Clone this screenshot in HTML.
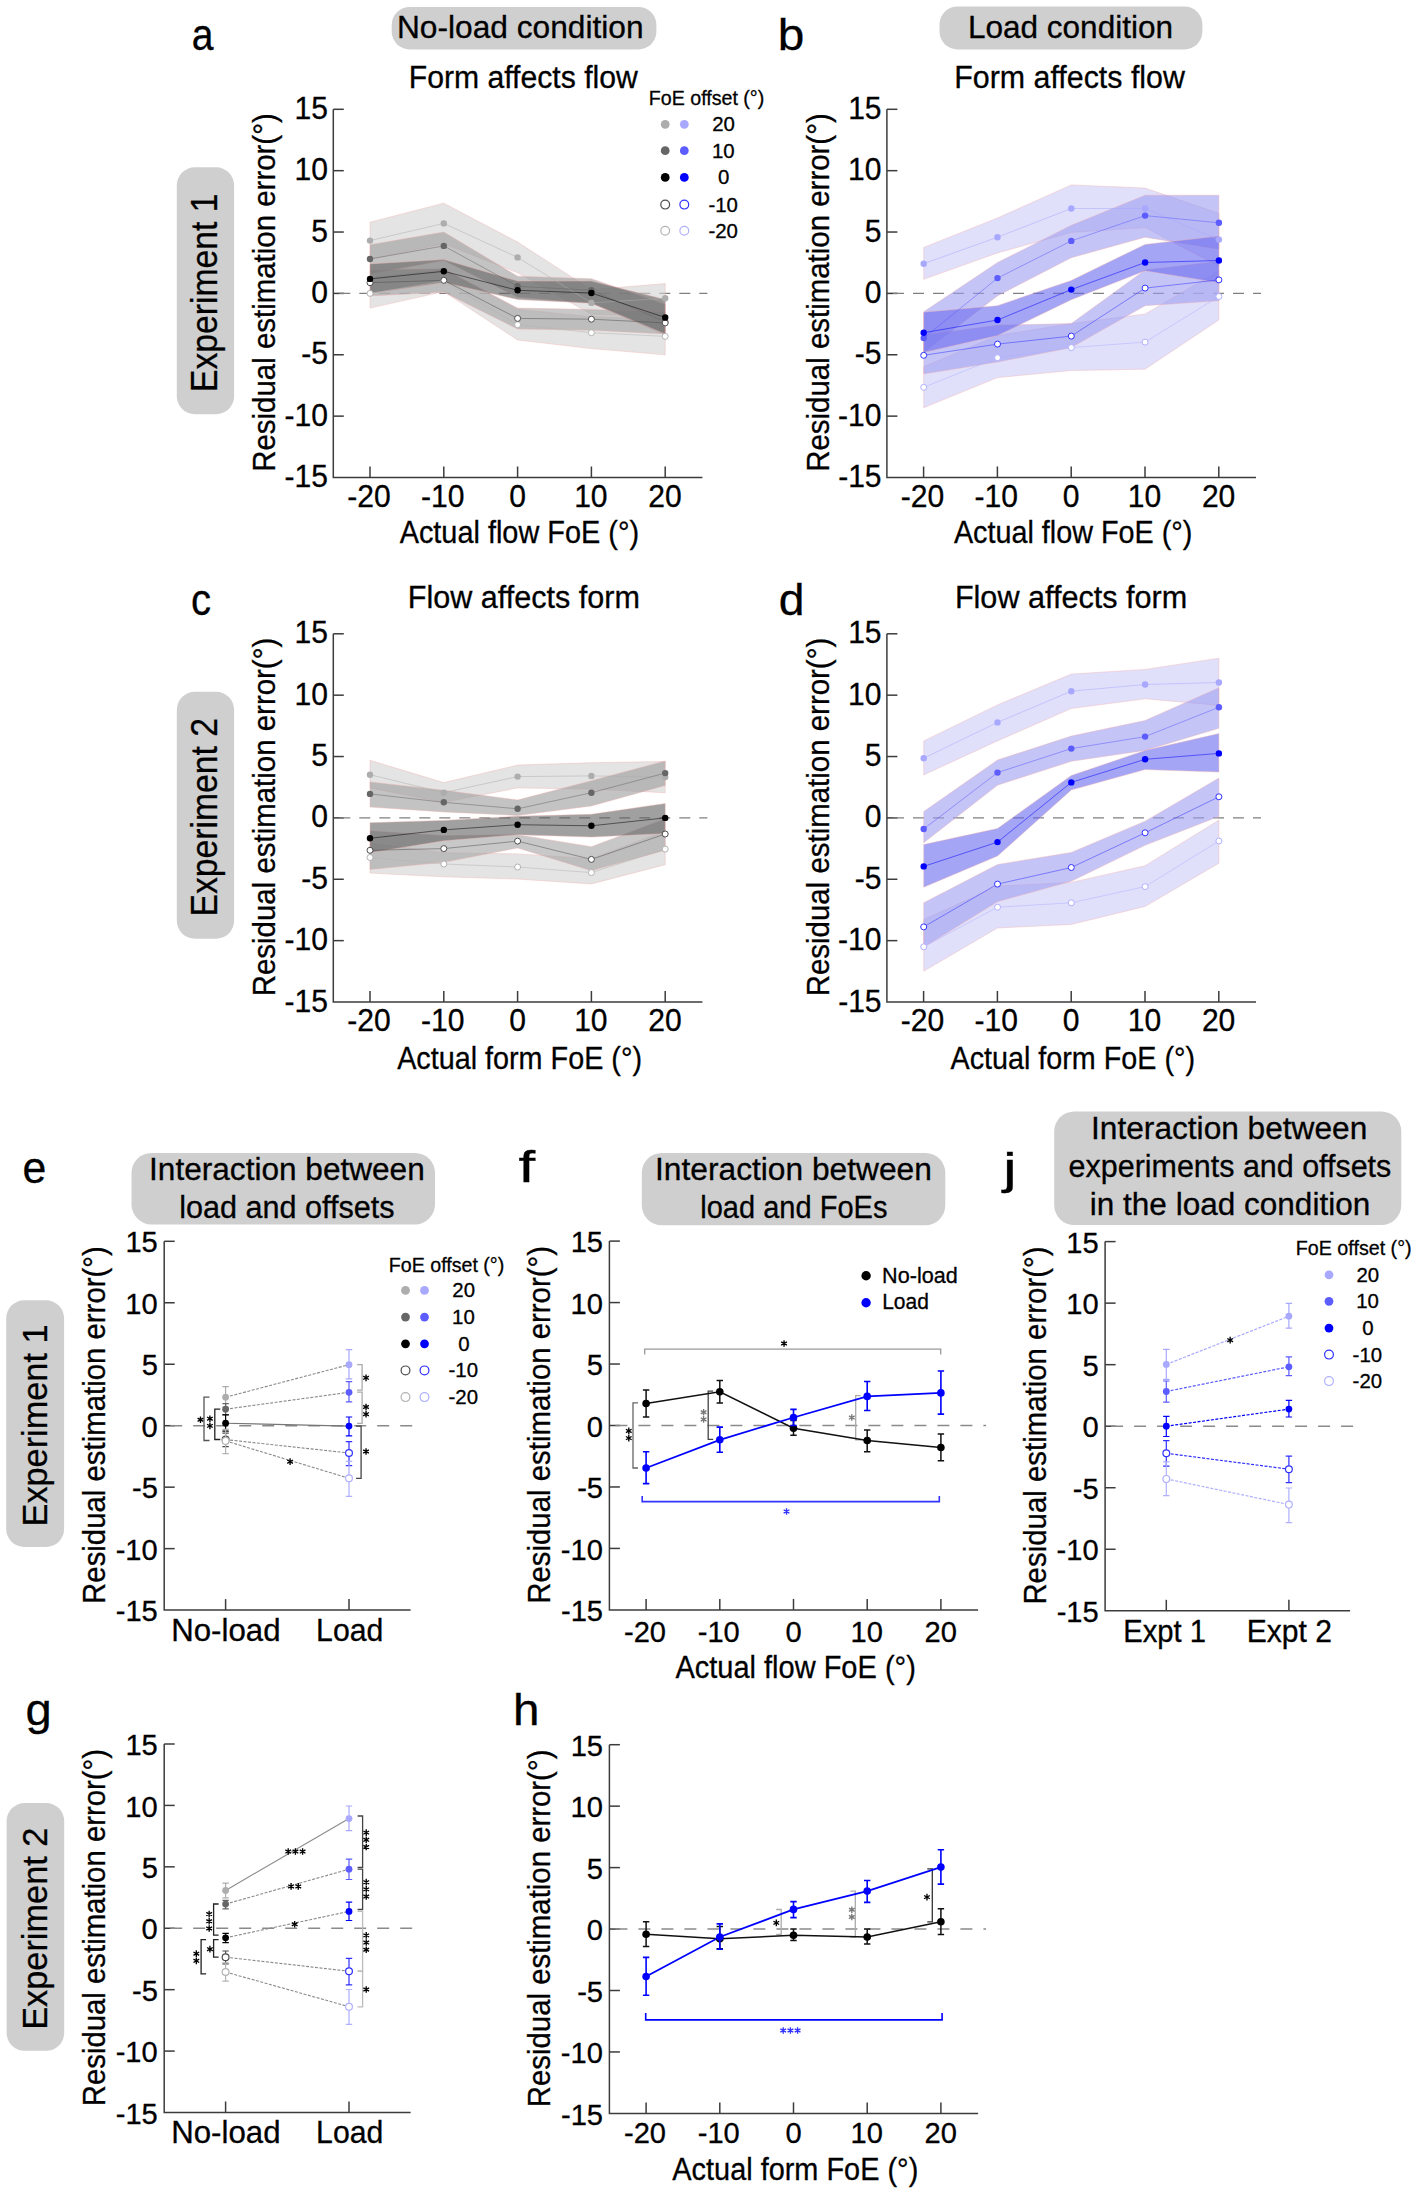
<!DOCTYPE html>
<html><head><meta charset="utf-8"><style>html,body{margin:0;padding:0;background:#fff;width:1417px;height:2190px;overflow:hidden}svg{display:block}</style></head><body>
<svg width="1417" height="2190" viewBox="0 0 1417 2190" font-family='"Liberation Sans", sans-serif'>
<rect width="1417" height="2190" fill="#fff"/>
<rect x="391.7" y="7.0" width="264.7" height="42.4" rx="18" ry="18" fill="#cfcfcf"/>
<text x="396.90" y="37.80" font-size="31.50" fill="#000" textLength="246.66" lengthAdjust="spacingAndGlyphs" stroke="#000" stroke-width="0.3" >No-load condition</text>
<rect x="939.5" y="6.4" width="262.9" height="43.0" rx="18" ry="18" fill="#cfcfcf"/>
<text x="967.91" y="37.80" font-size="31.50" fill="#000" textLength="205.13" lengthAdjust="spacingAndGlyphs" stroke="#000" stroke-width="0.3" >Load condition</text>
<text x="191.74" y="50.10" font-size="44.00" fill="#000" textLength="21.76" lengthAdjust="spacingAndGlyphs" stroke="#000" stroke-width="0.3" >a</text>
<text x="777.72" y="49.80" font-size="44.00" fill="#000" textLength="26.59" lengthAdjust="spacingAndGlyphs" stroke="#000" stroke-width="0.3" >b</text>
<text x="191.00" y="614.50" font-size="44.00" fill="#000" textLength="20.06" lengthAdjust="spacingAndGlyphs" stroke="#000" stroke-width="0.3" >c</text>
<text x="778.86" y="614.80" font-size="44.00" fill="#000" textLength="25.72" lengthAdjust="spacingAndGlyphs" stroke="#000" stroke-width="0.3" >d</text>
<rect x="176.8" y="167.3" width="57.3" height="246.9" rx="18" ry="18" fill="#cfcfcf"/>
<text transform="rotate(-90)" x="-392.06" y="217.20" font-size="37.00" fill="#000" textLength="198.51" lengthAdjust="spacingAndGlyphs" stroke="#000" stroke-width="0.3">Experiment 1</text>
<rect x="176.8" y="691.8" width="57.3" height="246.9" rx="18" ry="18" fill="#cfcfcf"/>
<text transform="rotate(-90)" x="-916.56" y="217.20" font-size="37.00" fill="#000" textLength="198.56" lengthAdjust="spacingAndGlyphs" stroke="#000" stroke-width="0.3">Experiment 2</text>
<text transform="rotate(-90)" x="-471.81" y="275.00" font-size="30.50" fill="#000" textLength="358.54" lengthAdjust="spacingAndGlyphs" stroke="#000" stroke-width="0.3">Residual estimation error(°)</text>
<path d="M333.3,109.3 V477.5 H702.4" fill="none" stroke="#3c3c3c" stroke-width="1.5"/>
<line x1="333.3" y1="109.30" x2="343.8" y2="109.30" stroke="#3c3c3c" stroke-width="1.5"/>
<text x="294.54" y="118.80" font-size="31.30" fill="#000" textLength="33.42" lengthAdjust="spacingAndGlyphs" stroke="#000" stroke-width="0.3" >15</text>
<line x1="333.3" y1="170.67" x2="343.8" y2="170.67" stroke="#3c3c3c" stroke-width="1.5"/>
<text x="294.45" y="180.17" font-size="31.30" fill="#000" textLength="33.42" lengthAdjust="spacingAndGlyphs" stroke="#000" stroke-width="0.3" >10</text>
<line x1="333.3" y1="232.03" x2="343.8" y2="232.03" stroke="#3c3c3c" stroke-width="1.5"/>
<text x="311.25" y="241.53" font-size="31.30" fill="#000" textLength="16.71" lengthAdjust="spacingAndGlyphs" stroke="#000" stroke-width="0.3" >5</text>
<line x1="333.3" y1="293.40" x2="343.8" y2="293.40" stroke="#3c3c3c" stroke-width="1.5"/>
<text x="311.16" y="302.90" font-size="31.30" fill="#000" textLength="16.71" lengthAdjust="spacingAndGlyphs" stroke="#000" stroke-width="0.3" >0</text>
<line x1="333.3" y1="354.77" x2="343.8" y2="354.77" stroke="#3c3c3c" stroke-width="1.5"/>
<text x="301.24" y="364.27" font-size="31.30" fill="#000" textLength="26.72" lengthAdjust="spacingAndGlyphs" stroke="#000" stroke-width="0.3" >-5</text>
<line x1="333.3" y1="416.13" x2="343.8" y2="416.13" stroke="#3c3c3c" stroke-width="1.5"/>
<text x="284.44" y="425.63" font-size="31.30" fill="#000" textLength="43.43" lengthAdjust="spacingAndGlyphs" stroke="#000" stroke-width="0.3" >-10</text>
<text x="284.53" y="487.00" font-size="31.30" fill="#000" textLength="43.43" lengthAdjust="spacingAndGlyphs" stroke="#000" stroke-width="0.3" >-15</text>
<line x1="370.00" y1="477.5" x2="370.00" y2="466.5" stroke="#3c3c3c" stroke-width="1.5"/>
<text x="347.20" y="506.60" font-size="31.30" fill="#000" textLength="43.43" lengthAdjust="spacingAndGlyphs" stroke="#000" stroke-width="0.3" >-20</text>
<line x1="443.80" y1="477.5" x2="443.80" y2="466.5" stroke="#3c3c3c" stroke-width="1.5"/>
<text x="421.00" y="506.60" font-size="31.30" fill="#000" textLength="43.43" lengthAdjust="spacingAndGlyphs" stroke="#000" stroke-width="0.3" >-10</text>
<line x1="517.60" y1="477.5" x2="517.60" y2="466.5" stroke="#3c3c3c" stroke-width="1.5"/>
<text x="509.24" y="506.60" font-size="31.30" fill="#000" textLength="16.71" lengthAdjust="spacingAndGlyphs" stroke="#000" stroke-width="0.3" >0</text>
<line x1="591.40" y1="477.5" x2="591.40" y2="466.5" stroke="#3c3c3c" stroke-width="1.5"/>
<text x="574.13" y="506.60" font-size="31.30" fill="#000" textLength="33.42" lengthAdjust="spacingAndGlyphs" stroke="#000" stroke-width="0.3" >10</text>
<line x1="665.20" y1="477.5" x2="665.20" y2="466.5" stroke="#3c3c3c" stroke-width="1.5"/>
<text x="648.32" y="506.60" font-size="31.30" fill="#000" textLength="33.42" lengthAdjust="spacingAndGlyphs" stroke="#000" stroke-width="0.3" >20</text>
<text transform="rotate(-90)" x="-471.81" y="828.60" font-size="30.50" fill="#000" textLength="358.54" lengthAdjust="spacingAndGlyphs" stroke="#000" stroke-width="0.3">Residual estimation error(°)</text>
<path d="M886.9000000000001,109.3 V477.5 H1256.0" fill="none" stroke="#3c3c3c" stroke-width="1.5"/>
<line x1="886.9000000000001" y1="109.30" x2="897.4000000000001" y2="109.30" stroke="#3c3c3c" stroke-width="1.5"/>
<text x="848.14" y="118.80" font-size="31.30" fill="#000" textLength="33.42" lengthAdjust="spacingAndGlyphs" stroke="#000" stroke-width="0.3" >15</text>
<line x1="886.9000000000001" y1="170.67" x2="897.4000000000001" y2="170.67" stroke="#3c3c3c" stroke-width="1.5"/>
<text x="848.05" y="180.17" font-size="31.30" fill="#000" textLength="33.42" lengthAdjust="spacingAndGlyphs" stroke="#000" stroke-width="0.3" >10</text>
<line x1="886.9000000000001" y1="232.03" x2="897.4000000000001" y2="232.03" stroke="#3c3c3c" stroke-width="1.5"/>
<text x="864.85" y="241.53" font-size="31.30" fill="#000" textLength="16.71" lengthAdjust="spacingAndGlyphs" stroke="#000" stroke-width="0.3" >5</text>
<line x1="886.9000000000001" y1="293.40" x2="897.4000000000001" y2="293.40" stroke="#3c3c3c" stroke-width="1.5"/>
<text x="864.76" y="302.90" font-size="31.30" fill="#000" textLength="16.71" lengthAdjust="spacingAndGlyphs" stroke="#000" stroke-width="0.3" >0</text>
<line x1="886.9000000000001" y1="354.77" x2="897.4000000000001" y2="354.77" stroke="#3c3c3c" stroke-width="1.5"/>
<text x="854.84" y="364.27" font-size="31.30" fill="#000" textLength="26.72" lengthAdjust="spacingAndGlyphs" stroke="#000" stroke-width="0.3" >-5</text>
<line x1="886.9000000000001" y1="416.13" x2="897.4000000000001" y2="416.13" stroke="#3c3c3c" stroke-width="1.5"/>
<text x="838.05" y="425.63" font-size="31.30" fill="#000" textLength="43.43" lengthAdjust="spacingAndGlyphs" stroke="#000" stroke-width="0.3" >-10</text>
<text x="838.13" y="487.00" font-size="31.30" fill="#000" textLength="43.43" lengthAdjust="spacingAndGlyphs" stroke="#000" stroke-width="0.3" >-15</text>
<line x1="923.60" y1="477.5" x2="923.60" y2="466.5" stroke="#3c3c3c" stroke-width="1.5"/>
<text x="900.80" y="506.60" font-size="31.30" fill="#000" textLength="43.43" lengthAdjust="spacingAndGlyphs" stroke="#000" stroke-width="0.3" >-20</text>
<line x1="997.40" y1="477.5" x2="997.40" y2="466.5" stroke="#3c3c3c" stroke-width="1.5"/>
<text x="974.60" y="506.60" font-size="31.30" fill="#000" textLength="43.43" lengthAdjust="spacingAndGlyphs" stroke="#000" stroke-width="0.3" >-10</text>
<line x1="1071.20" y1="477.5" x2="1071.20" y2="466.5" stroke="#3c3c3c" stroke-width="1.5"/>
<text x="1062.84" y="506.60" font-size="31.30" fill="#000" textLength="16.71" lengthAdjust="spacingAndGlyphs" stroke="#000" stroke-width="0.3" >0</text>
<line x1="1145.00" y1="477.5" x2="1145.00" y2="466.5" stroke="#3c3c3c" stroke-width="1.5"/>
<text x="1127.73" y="506.60" font-size="31.30" fill="#000" textLength="33.42" lengthAdjust="spacingAndGlyphs" stroke="#000" stroke-width="0.3" >10</text>
<line x1="1218.80" y1="477.5" x2="1218.80" y2="466.5" stroke="#3c3c3c" stroke-width="1.5"/>
<text x="1201.92" y="506.60" font-size="31.30" fill="#000" textLength="33.42" lengthAdjust="spacingAndGlyphs" stroke="#000" stroke-width="0.3" >20</text>
<text transform="rotate(-90)" x="-996.31" y="275.00" font-size="30.50" fill="#000" textLength="358.54" lengthAdjust="spacingAndGlyphs" stroke="#000" stroke-width="0.3">Residual estimation error(°)</text>
<path d="M333.3,633.8 V1002.0 H702.4" fill="none" stroke="#3c3c3c" stroke-width="1.5"/>
<line x1="333.3" y1="633.80" x2="343.8" y2="633.80" stroke="#3c3c3c" stroke-width="1.5"/>
<text x="294.54" y="643.30" font-size="31.30" fill="#000" textLength="33.42" lengthAdjust="spacingAndGlyphs" stroke="#000" stroke-width="0.3" >15</text>
<line x1="333.3" y1="695.17" x2="343.8" y2="695.17" stroke="#3c3c3c" stroke-width="1.5"/>
<text x="294.45" y="704.67" font-size="31.30" fill="#000" textLength="33.42" lengthAdjust="spacingAndGlyphs" stroke="#000" stroke-width="0.3" >10</text>
<line x1="333.3" y1="756.53" x2="343.8" y2="756.53" stroke="#3c3c3c" stroke-width="1.5"/>
<text x="311.25" y="766.03" font-size="31.30" fill="#000" textLength="16.71" lengthAdjust="spacingAndGlyphs" stroke="#000" stroke-width="0.3" >5</text>
<line x1="333.3" y1="817.90" x2="343.8" y2="817.90" stroke="#3c3c3c" stroke-width="1.5"/>
<text x="311.16" y="827.40" font-size="31.30" fill="#000" textLength="16.71" lengthAdjust="spacingAndGlyphs" stroke="#000" stroke-width="0.3" >0</text>
<line x1="333.3" y1="879.27" x2="343.8" y2="879.27" stroke="#3c3c3c" stroke-width="1.5"/>
<text x="301.24" y="888.77" font-size="31.30" fill="#000" textLength="26.72" lengthAdjust="spacingAndGlyphs" stroke="#000" stroke-width="0.3" >-5</text>
<line x1="333.3" y1="940.63" x2="343.8" y2="940.63" stroke="#3c3c3c" stroke-width="1.5"/>
<text x="284.44" y="950.13" font-size="31.30" fill="#000" textLength="43.43" lengthAdjust="spacingAndGlyphs" stroke="#000" stroke-width="0.3" >-10</text>
<text x="284.53" y="1011.50" font-size="31.30" fill="#000" textLength="43.43" lengthAdjust="spacingAndGlyphs" stroke="#000" stroke-width="0.3" >-15</text>
<line x1="370.00" y1="1002.0" x2="370.00" y2="991.0" stroke="#3c3c3c" stroke-width="1.5"/>
<text x="347.20" y="1031.10" font-size="31.30" fill="#000" textLength="43.43" lengthAdjust="spacingAndGlyphs" stroke="#000" stroke-width="0.3" >-20</text>
<line x1="443.80" y1="1002.0" x2="443.80" y2="991.0" stroke="#3c3c3c" stroke-width="1.5"/>
<text x="421.00" y="1031.10" font-size="31.30" fill="#000" textLength="43.43" lengthAdjust="spacingAndGlyphs" stroke="#000" stroke-width="0.3" >-10</text>
<line x1="517.60" y1="1002.0" x2="517.60" y2="991.0" stroke="#3c3c3c" stroke-width="1.5"/>
<text x="509.24" y="1031.10" font-size="31.30" fill="#000" textLength="16.71" lengthAdjust="spacingAndGlyphs" stroke="#000" stroke-width="0.3" >0</text>
<line x1="591.40" y1="1002.0" x2="591.40" y2="991.0" stroke="#3c3c3c" stroke-width="1.5"/>
<text x="574.13" y="1031.10" font-size="31.30" fill="#000" textLength="33.42" lengthAdjust="spacingAndGlyphs" stroke="#000" stroke-width="0.3" >10</text>
<line x1="665.20" y1="1002.0" x2="665.20" y2="991.0" stroke="#3c3c3c" stroke-width="1.5"/>
<text x="648.32" y="1031.10" font-size="31.30" fill="#000" textLength="33.42" lengthAdjust="spacingAndGlyphs" stroke="#000" stroke-width="0.3" >20</text>
<text transform="rotate(-90)" x="-996.31" y="828.60" font-size="30.50" fill="#000" textLength="358.54" lengthAdjust="spacingAndGlyphs" stroke="#000" stroke-width="0.3">Residual estimation error(°)</text>
<path d="M886.9000000000001,633.8 V1002.0 H1256.0" fill="none" stroke="#3c3c3c" stroke-width="1.5"/>
<line x1="886.9000000000001" y1="633.80" x2="897.4000000000001" y2="633.80" stroke="#3c3c3c" stroke-width="1.5"/>
<text x="848.14" y="643.30" font-size="31.30" fill="#000" textLength="33.42" lengthAdjust="spacingAndGlyphs" stroke="#000" stroke-width="0.3" >15</text>
<line x1="886.9000000000001" y1="695.17" x2="897.4000000000001" y2="695.17" stroke="#3c3c3c" stroke-width="1.5"/>
<text x="848.05" y="704.67" font-size="31.30" fill="#000" textLength="33.42" lengthAdjust="spacingAndGlyphs" stroke="#000" stroke-width="0.3" >10</text>
<line x1="886.9000000000001" y1="756.53" x2="897.4000000000001" y2="756.53" stroke="#3c3c3c" stroke-width="1.5"/>
<text x="864.85" y="766.03" font-size="31.30" fill="#000" textLength="16.71" lengthAdjust="spacingAndGlyphs" stroke="#000" stroke-width="0.3" >5</text>
<line x1="886.9000000000001" y1="817.90" x2="897.4000000000001" y2="817.90" stroke="#3c3c3c" stroke-width="1.5"/>
<text x="864.76" y="827.40" font-size="31.30" fill="#000" textLength="16.71" lengthAdjust="spacingAndGlyphs" stroke="#000" stroke-width="0.3" >0</text>
<line x1="886.9000000000001" y1="879.27" x2="897.4000000000001" y2="879.27" stroke="#3c3c3c" stroke-width="1.5"/>
<text x="854.84" y="888.77" font-size="31.30" fill="#000" textLength="26.72" lengthAdjust="spacingAndGlyphs" stroke="#000" stroke-width="0.3" >-5</text>
<line x1="886.9000000000001" y1="940.63" x2="897.4000000000001" y2="940.63" stroke="#3c3c3c" stroke-width="1.5"/>
<text x="838.05" y="950.13" font-size="31.30" fill="#000" textLength="43.43" lengthAdjust="spacingAndGlyphs" stroke="#000" stroke-width="0.3" >-10</text>
<text x="838.13" y="1011.50" font-size="31.30" fill="#000" textLength="43.43" lengthAdjust="spacingAndGlyphs" stroke="#000" stroke-width="0.3" >-15</text>
<line x1="923.60" y1="1002.0" x2="923.60" y2="991.0" stroke="#3c3c3c" stroke-width="1.5"/>
<text x="900.80" y="1031.10" font-size="31.30" fill="#000" textLength="43.43" lengthAdjust="spacingAndGlyphs" stroke="#000" stroke-width="0.3" >-20</text>
<line x1="997.40" y1="1002.0" x2="997.40" y2="991.0" stroke="#3c3c3c" stroke-width="1.5"/>
<text x="974.60" y="1031.10" font-size="31.30" fill="#000" textLength="43.43" lengthAdjust="spacingAndGlyphs" stroke="#000" stroke-width="0.3" >-10</text>
<line x1="1071.20" y1="1002.0" x2="1071.20" y2="991.0" stroke="#3c3c3c" stroke-width="1.5"/>
<text x="1062.84" y="1031.10" font-size="31.30" fill="#000" textLength="16.71" lengthAdjust="spacingAndGlyphs" stroke="#000" stroke-width="0.3" >0</text>
<line x1="1145.00" y1="1002.0" x2="1145.00" y2="991.0" stroke="#3c3c3c" stroke-width="1.5"/>
<text x="1127.73" y="1031.10" font-size="31.30" fill="#000" textLength="33.42" lengthAdjust="spacingAndGlyphs" stroke="#000" stroke-width="0.3" >10</text>
<line x1="1218.80" y1="1002.0" x2="1218.80" y2="991.0" stroke="#3c3c3c" stroke-width="1.5"/>
<text x="1201.92" y="1031.10" font-size="31.30" fill="#000" textLength="33.42" lengthAdjust="spacingAndGlyphs" stroke="#000" stroke-width="0.3" >20</text>
<text x="408.73" y="88.00" font-size="30.80" fill="#000" textLength="229.10" lengthAdjust="spacingAndGlyphs" stroke="#000" stroke-width="0.3" >Form affects flow</text>
<text x="954.32" y="88.00" font-size="30.80" fill="#000" textLength="230.61" lengthAdjust="spacingAndGlyphs" stroke="#000" stroke-width="0.3" >Form affects flow</text>
<text x="407.80" y="607.50" font-size="30.80" fill="#000" textLength="232.11" lengthAdjust="spacingAndGlyphs" stroke="#000" stroke-width="0.3" >Flow affects form</text>
<text x="954.90" y="607.60" font-size="30.80" fill="#000" textLength="232.31" lengthAdjust="spacingAndGlyphs" stroke="#000" stroke-width="0.3" >Flow affects form</text>
<text x="399.64" y="543.00" font-size="31.20" fill="#000" textLength="239.45" lengthAdjust="spacingAndGlyphs" stroke="#000" stroke-width="0.3" >Actual flow FoE (°)</text>
<text x="953.94" y="543.00" font-size="31.20" fill="#000" textLength="238.34" lengthAdjust="spacingAndGlyphs" stroke="#000" stroke-width="0.3" >Actual flow FoE (°)</text>
<text x="397.14" y="1068.60" font-size="31.20" fill="#000" textLength="244.84" lengthAdjust="spacingAndGlyphs" stroke="#000" stroke-width="0.3" >Actual form FoE (°)</text>
<text x="950.54" y="1068.60" font-size="31.20" fill="#000" textLength="244.54" lengthAdjust="spacingAndGlyphs" stroke="#000" stroke-width="0.3" >Actual form FoE (°)</text>
<line x1="339.3" y1="293.40" x2="707.4" y2="293.40" stroke="#808080" stroke-width="1.4" stroke-dasharray="11,9"/>
<path d="M370.0,222.2 L443.8,203.2 L517.6,242.1 L591.4,289.7 L665.2,283.6 L665.2,315.5 L591.4,314.3 L517.6,272.8 L443.8,243.7 L370.0,259.0 Z" fill="#d2d2d2" fill-opacity="0.6" stroke="#f0b0b0" stroke-opacity="0.5" stroke-width="0.8"/>
<path d="M370.0,277.4 L443.8,270.1 L517.6,309.4 L591.4,316.7 L665.2,319.2 L665.2,354.8 L591.4,348.6 L517.6,340.0 L443.8,291.6 L370.0,308.1 Z" fill="#d2d2d2" fill-opacity="0.6" stroke="#f0b0b0" stroke-opacity="0.5" stroke-width="0.8"/>
<path d="M370.0,244.7 L443.8,232.0 L517.6,276.2 L591.4,278.7 L665.2,304.4 L665.2,335.1 L591.4,303.2 L517.6,297.1 L443.8,260.3 L370.0,273.8 Z" fill="#9b9b9b" fill-opacity="0.6" stroke="#f0b0b0" stroke-opacity="0.5" stroke-width="0.8"/>
<path d="M370.0,270.1 L443.8,268.9 L517.6,308.1 L591.4,309.4 L665.2,311.8 L665.2,333.9 L591.4,330.2 L517.6,329.0 L443.8,292.2 L370.0,295.9 Z" fill="#a3a3a3" fill-opacity="0.6" stroke="#f0b0b0" stroke-opacity="0.5" stroke-width="0.8"/>
<path d="M370.0,263.9 L443.8,259.6 L517.6,281.1 L591.4,281.1 L665.2,299.5 L665.2,333.9 L591.4,303.2 L517.6,299.5 L443.8,282.4 L370.0,293.4 Z" fill="#616161" fill-opacity="0.6" stroke="#f0b0b0" stroke-opacity="0.5" stroke-width="0.8"/>
<path d="M370.0,240.6 L443.8,223.4 L517.6,257.4 L591.4,302.9 L665.2,298.3" fill="none" stroke="#adadad" stroke-opacity="0.5" stroke-width="1.0"/>
<path d="M370.0,293.4 L443.8,281.1 L517.6,324.7 L591.4,332.7 L665.2,336.4" fill="none" stroke="#b3b3b3" stroke-opacity="0.5" stroke-width="1.0"/>
<path d="M370.0,259.0 L443.8,245.9 L517.6,286.3 L591.4,290.3 L665.2,321.6" fill="none" stroke="#666666" stroke-opacity="0.5" stroke-width="1.0"/>
<path d="M370.0,282.7 L443.8,280.3 L517.6,318.4 L591.4,319.2 L665.2,322.9" fill="none" stroke="#4d4d4d" stroke-opacity="0.5" stroke-width="1.0"/>
<path d="M370.0,278.9 L443.8,271.3 L517.6,290.3 L591.4,293.0 L665.2,317.5" fill="none" stroke="#000000" stroke-opacity="0.5" stroke-width="1.0"/>
<circle cx="370.0" cy="240.6" r="3.2" fill="#adadad"/>
<circle cx="443.8" cy="223.4" r="3.2" fill="#adadad"/>
<circle cx="517.6" cy="257.4" r="3.2" fill="#adadad"/>
<circle cx="591.4" cy="302.9" r="3.2" fill="#adadad"/>
<circle cx="665.2" cy="298.3" r="3.2" fill="#adadad"/>
<circle cx="370.0" cy="293.4" r="3.0" fill="#fff" stroke="#b3b3b3" stroke-width="1.0"/>
<circle cx="443.8" cy="281.1" r="3.0" fill="#fff" stroke="#b3b3b3" stroke-width="1.0"/>
<circle cx="517.6" cy="324.7" r="3.0" fill="#fff" stroke="#b3b3b3" stroke-width="1.0"/>
<circle cx="591.4" cy="332.7" r="3.0" fill="#fff" stroke="#b3b3b3" stroke-width="1.0"/>
<circle cx="665.2" cy="336.4" r="3.0" fill="#fff" stroke="#b3b3b3" stroke-width="1.0"/>
<circle cx="370.0" cy="259.0" r="3.2" fill="#666666"/>
<circle cx="443.8" cy="245.9" r="3.2" fill="#666666"/>
<circle cx="517.6" cy="286.3" r="3.2" fill="#666666"/>
<circle cx="591.4" cy="290.3" r="3.2" fill="#666666"/>
<circle cx="665.2" cy="321.6" r="3.2" fill="#666666"/>
<circle cx="370.0" cy="282.7" r="3.0" fill="#fff" stroke="#4d4d4d" stroke-width="1.0"/>
<circle cx="443.8" cy="280.3" r="3.0" fill="#fff" stroke="#4d4d4d" stroke-width="1.0"/>
<circle cx="517.6" cy="318.4" r="3.0" fill="#fff" stroke="#4d4d4d" stroke-width="1.0"/>
<circle cx="591.4" cy="319.2" r="3.0" fill="#fff" stroke="#4d4d4d" stroke-width="1.0"/>
<circle cx="665.2" cy="322.9" r="3.0" fill="#fff" stroke="#4d4d4d" stroke-width="1.0"/>
<circle cx="370.0" cy="278.9" r="3.2" fill="#000000"/>
<circle cx="443.8" cy="271.3" r="3.2" fill="#000000"/>
<circle cx="517.6" cy="290.3" r="3.2" fill="#000000"/>
<circle cx="591.4" cy="293.0" r="3.2" fill="#000000"/>
<circle cx="665.2" cy="317.5" r="3.2" fill="#000000"/>
<line x1="893.0" y1="293.40" x2="1261.0" y2="293.40" stroke="#808080" stroke-width="1.4" stroke-dasharray="11,9"/>
<path d="M923.7,247.4 L997.5,218.0 L1071.3,184.9 L1145.1,188.1 L1218.9,213.3 L1218.9,266.0 L1145.1,227.6 L1071.3,232.4 L997.5,252.9 L923.7,279.3 Z" fill="#cbcbf8" fill-opacity="0.6" stroke="#f0b0b0" stroke-opacity="0.5" stroke-width="0.8"/>
<path d="M923.7,366.8 L997.5,335.6 L1071.3,323.6 L1145.1,314.0 L1218.9,270.8 L1218.9,320.0 L1145.1,369.2 L1071.3,370.5 L997.5,377.6 L923.7,407.7 Z" fill="#cbcbf8" fill-opacity="0.6" stroke="#f0b0b0" stroke-opacity="0.5" stroke-width="0.8"/>
<path d="M923.7,311.8 L997.5,262.5 L1071.3,225.3 L1145.1,195.2 L1218.9,195.2 L1218.9,249.2 L1145.1,237.2 L1071.3,257.7 L997.5,295.9 L923.7,352.3 Z" fill="#9d9df2" fill-opacity="0.6" stroke="#f0b0b0" stroke-opacity="0.5" stroke-width="0.8"/>
<path d="M923.7,335.1 L997.5,325.3 L1071.3,323.6 L1145.1,270.1 L1218.9,261.5 L1218.9,300.8 L1145.1,305.7 L1071.3,347.6 L997.5,362.1 L923.7,374.0 Z" fill="#9d9df2" fill-opacity="0.6" stroke="#f0b0b0" stroke-opacity="0.5" stroke-width="0.8"/>
<path d="M923.7,312.2 L997.5,305.7 L1071.3,280.4 L1145.1,244.4 L1218.9,236.1 L1218.9,282.8 L1145.1,270.8 L1071.3,299.7 L997.5,335.6 L923.7,352.4 Z" fill="#6969ee" fill-opacity="0.6" stroke="#f0b0b0" stroke-opacity="0.5" stroke-width="0.8"/>
<path d="M923.7,263.7 L997.5,237.2 L1071.3,208.5 L1145.1,208.5 L1218.9,239.6" fill="none" stroke="#a8a8ff" stroke-opacity="0.5" stroke-width="1.0"/>
<path d="M923.7,387.3 L997.5,357.7 L1071.3,347.6 L1145.1,342.1 L1218.9,296.5" fill="none" stroke="#b0b0ff" stroke-opacity="0.5" stroke-width="1.0"/>
<path d="M923.7,338.1 L997.5,278.1 L1071.3,240.9 L1145.1,215.6 L1218.9,222.8" fill="none" stroke="#5c5cff" stroke-opacity="0.5" stroke-width="1.0"/>
<path d="M923.7,355.3 L997.5,344.1 L1071.3,336.1 L1145.1,288.1 L1218.9,279.9" fill="none" stroke="#3030ff" stroke-opacity="0.5" stroke-width="1.0"/>
<path d="M923.7,332.7 L997.5,320.0 L1071.3,289.6 L1145.1,262.5 L1218.9,260.5" fill="none" stroke="#0000ff" stroke-opacity="0.5" stroke-width="1.0"/>
<circle cx="923.7" cy="263.7" r="3.2" fill="#a8a8ff"/>
<circle cx="997.5" cy="237.2" r="3.2" fill="#a8a8ff"/>
<circle cx="1071.3" cy="208.5" r="3.2" fill="#a8a8ff"/>
<circle cx="1145.1" cy="208.5" r="3.2" fill="#a8a8ff"/>
<circle cx="1218.9" cy="239.6" r="3.2" fill="#a8a8ff"/>
<circle cx="923.7" cy="387.3" r="3.0" fill="#fff" stroke="#b0b0ff" stroke-width="1.0"/>
<circle cx="997.5" cy="357.7" r="3.0" fill="#fff" stroke="#b0b0ff" stroke-width="1.0"/>
<circle cx="1071.3" cy="347.6" r="3.0" fill="#fff" stroke="#b0b0ff" stroke-width="1.0"/>
<circle cx="1145.1" cy="342.1" r="3.0" fill="#fff" stroke="#b0b0ff" stroke-width="1.0"/>
<circle cx="1218.9" cy="296.5" r="3.0" fill="#fff" stroke="#b0b0ff" stroke-width="1.0"/>
<circle cx="923.7" cy="338.1" r="3.2" fill="#5c5cff"/>
<circle cx="997.5" cy="278.1" r="3.2" fill="#5c5cff"/>
<circle cx="1071.3" cy="240.9" r="3.2" fill="#5c5cff"/>
<circle cx="1145.1" cy="215.6" r="3.2" fill="#5c5cff"/>
<circle cx="1218.9" cy="222.8" r="3.2" fill="#5c5cff"/>
<circle cx="923.7" cy="355.3" r="3.0" fill="#fff" stroke="#3030ff" stroke-width="1.0"/>
<circle cx="997.5" cy="344.1" r="3.0" fill="#fff" stroke="#3030ff" stroke-width="1.0"/>
<circle cx="1071.3" cy="336.1" r="3.0" fill="#fff" stroke="#3030ff" stroke-width="1.0"/>
<circle cx="1145.1" cy="288.1" r="3.0" fill="#fff" stroke="#3030ff" stroke-width="1.0"/>
<circle cx="1218.9" cy="279.9" r="3.0" fill="#fff" stroke="#3030ff" stroke-width="1.0"/>
<circle cx="923.7" cy="332.7" r="3.2" fill="#0000ff"/>
<circle cx="997.5" cy="320.0" r="3.2" fill="#0000ff"/>
<circle cx="1071.3" cy="289.6" r="3.2" fill="#0000ff"/>
<circle cx="1145.1" cy="262.5" r="3.2" fill="#0000ff"/>
<circle cx="1218.9" cy="260.5" r="3.2" fill="#0000ff"/>
<line x1="339.3" y1="817.90" x2="707.4" y2="817.90" stroke="#808080" stroke-width="1.4" stroke-dasharray="11,9"/>
<path d="M370.0,760.3 L443.8,782.6 L517.6,765.1 L591.4,762.7 L665.2,761.5 L665.2,792.7 L591.4,789.1 L517.6,787.9 L443.8,802.3 L370.0,787.9 Z" fill="#d2d2d2" fill-opacity="0.6" stroke="#f0b0b0" stroke-opacity="0.5" stroke-width="0.8"/>
<path d="M370.0,843.1 L443.8,852.7 L517.6,853.9 L591.4,858.7 L665.2,831.0 L665.2,864.7 L591.4,883.9 L517.6,879.1 L443.8,876.8 L370.0,873.1 Z" fill="#d2d2d2" fill-opacity="0.6" stroke="#f0b0b0" stroke-opacity="0.5" stroke-width="0.8"/>
<path d="M370.0,781.9 L443.8,790.3 L517.6,800.0 L591.4,780.7 L665.2,761.0 L665.2,785.5 L591.4,805.9 L517.6,815.4 L443.8,811.9 L370.0,807.1 Z" fill="#9b9b9b" fill-opacity="0.6" stroke="#f0b0b0" stroke-opacity="0.5" stroke-width="0.8"/>
<path d="M370.0,831.0 L443.8,835.8 L517.6,834.7 L591.4,846.7 L665.2,819.1 L665.2,850.3 L591.4,870.7 L517.6,847.9 L443.8,862.3 L370.0,869.5 Z" fill="#a3a3a3" fill-opacity="0.6" stroke="#f0b0b0" stroke-opacity="0.5" stroke-width="0.8"/>
<path d="M370.0,822.7 L443.8,820.4 L517.6,816.2 L591.4,814.3 L665.2,803.5 L665.2,833.5 L591.4,837.1 L517.6,834.7 L443.8,840.8 L370.0,852.7 Z" fill="#616161" fill-opacity="0.6" stroke="#f0b0b0" stroke-opacity="0.5" stroke-width="0.8"/>
<path d="M370.0,774.7 L443.8,792.7 L517.6,776.6 L591.4,775.9 L665.2,777.1" fill="none" stroke="#adadad" stroke-opacity="0.5" stroke-width="1.0"/>
<path d="M370.0,857.5 L443.8,864.0 L517.6,867.0 L591.4,872.6 L665.2,849.1" fill="none" stroke="#b3b3b3" stroke-opacity="0.5" stroke-width="1.0"/>
<path d="M370.0,793.9 L443.8,802.3 L517.6,808.8 L591.4,792.7 L665.2,773.1" fill="none" stroke="#666666" stroke-opacity="0.5" stroke-width="1.0"/>
<path d="M370.0,850.3 L443.8,848.6 L517.6,841.1 L591.4,859.4 L665.2,834.0" fill="none" stroke="#4d4d4d" stroke-opacity="0.5" stroke-width="1.0"/>
<path d="M370.0,838.3 L443.8,829.9 L517.6,824.7 L591.4,825.8 L665.2,817.9" fill="none" stroke="#000000" stroke-opacity="0.5" stroke-width="1.0"/>
<circle cx="370.0" cy="774.7" r="3.2" fill="#adadad"/>
<circle cx="443.8" cy="792.7" r="3.2" fill="#adadad"/>
<circle cx="517.6" cy="776.6" r="3.2" fill="#adadad"/>
<circle cx="591.4" cy="775.9" r="3.2" fill="#adadad"/>
<circle cx="665.2" cy="777.1" r="3.2" fill="#adadad"/>
<circle cx="370.0" cy="857.5" r="3.0" fill="#fff" stroke="#b3b3b3" stroke-width="1.0"/>
<circle cx="443.8" cy="864.0" r="3.0" fill="#fff" stroke="#b3b3b3" stroke-width="1.0"/>
<circle cx="517.6" cy="867.0" r="3.0" fill="#fff" stroke="#b3b3b3" stroke-width="1.0"/>
<circle cx="591.4" cy="872.6" r="3.0" fill="#fff" stroke="#b3b3b3" stroke-width="1.0"/>
<circle cx="665.2" cy="849.1" r="3.0" fill="#fff" stroke="#b3b3b3" stroke-width="1.0"/>
<circle cx="370.0" cy="793.9" r="3.2" fill="#666666"/>
<circle cx="443.8" cy="802.3" r="3.2" fill="#666666"/>
<circle cx="517.6" cy="808.8" r="3.2" fill="#666666"/>
<circle cx="591.4" cy="792.7" r="3.2" fill="#666666"/>
<circle cx="665.2" cy="773.1" r="3.2" fill="#666666"/>
<circle cx="370.0" cy="850.3" r="3.0" fill="#fff" stroke="#4d4d4d" stroke-width="1.0"/>
<circle cx="443.8" cy="848.6" r="3.0" fill="#fff" stroke="#4d4d4d" stroke-width="1.0"/>
<circle cx="517.6" cy="841.1" r="3.0" fill="#fff" stroke="#4d4d4d" stroke-width="1.0"/>
<circle cx="591.4" cy="859.4" r="3.0" fill="#fff" stroke="#4d4d4d" stroke-width="1.0"/>
<circle cx="665.2" cy="834.0" r="3.0" fill="#fff" stroke="#4d4d4d" stroke-width="1.0"/>
<circle cx="370.0" cy="838.3" r="3.2" fill="#000000"/>
<circle cx="443.8" cy="829.9" r="3.2" fill="#000000"/>
<circle cx="517.6" cy="824.7" r="3.2" fill="#000000"/>
<circle cx="591.4" cy="825.8" r="3.2" fill="#000000"/>
<circle cx="665.2" cy="817.9" r="3.2" fill="#000000"/>
<line x1="893.0" y1="817.90" x2="1261.0" y2="817.90" stroke="#808080" stroke-width="1.4" stroke-dasharray="11,9"/>
<path d="M923.7,740.9 L997.5,704.9 L1071.3,674.1 L1145.1,669.4 L1218.9,658.2 L1218.9,705.4 L1145.1,698.8 L1071.3,708.5 L997.5,740.9 L923.7,774.9 Z" fill="#cbcbf8" fill-opacity="0.6" stroke="#f0b0b0" stroke-opacity="0.5" stroke-width="0.8"/>
<path d="M923.7,919.6 L997.5,886.1 L1071.3,882.4 L1145.1,865.7 L1218.9,820.1 L1218.9,863.2 L1145.1,906.5 L1071.3,924.4 L997.5,928.0 L923.7,971.2 Z" fill="#cbcbf8" fill-opacity="0.6" stroke="#f0b0b0" stroke-opacity="0.5" stroke-width="0.8"/>
<path d="M923.7,811.6 L997.5,760.0 L1071.3,736.1 L1145.1,720.5 L1218.9,687.7 L1218.9,728.3 L1145.1,750.4 L1071.3,761.3 L997.5,785.2 L923.7,842.8 Z" fill="#9d9df2" fill-opacity="0.6" stroke="#f0b0b0" stroke-opacity="0.5" stroke-width="0.8"/>
<path d="M923.7,902.8 L997.5,864.5 L1071.3,852.4 L1145.1,821.2 L1218.9,778.1 L1218.9,816.4 L1145.1,845.3 L1071.3,881.3 L997.5,901.7 L923.7,947.3 Z" fill="#9d9df2" fill-opacity="0.6" stroke="#f0b0b0" stroke-opacity="0.5" stroke-width="0.8"/>
<path d="M923.7,844.6 L997.5,828.5 L1071.3,775.6 L1145.1,750.4 L1218.9,733.6 L1218.9,772.1 L1145.1,769.6 L1071.3,790.0 L997.5,856.0 L923.7,887.2 Z" fill="#6969ee" fill-opacity="0.6" stroke="#f0b0b0" stroke-opacity="0.5" stroke-width="0.8"/>
<path d="M923.7,758.2 L997.5,722.4 L1071.3,691.2 L1145.1,684.5 L1218.9,682.5" fill="none" stroke="#a8a8ff" stroke-opacity="0.5" stroke-width="1.0"/>
<path d="M923.7,946.8 L997.5,907.2 L1071.3,902.8 L1145.1,886.6 L1218.9,841.0" fill="none" stroke="#b0b0ff" stroke-opacity="0.5" stroke-width="1.0"/>
<path d="M923.7,829.0 L997.5,772.6 L1071.3,748.6 L1145.1,736.6 L1218.9,707.3" fill="none" stroke="#5c5cff" stroke-opacity="0.5" stroke-width="1.0"/>
<path d="M923.7,926.9 L997.5,884.1 L1071.3,867.5 L1145.1,832.8 L1218.9,796.8" fill="none" stroke="#3030ff" stroke-opacity="0.5" stroke-width="1.0"/>
<path d="M923.7,866.4 L997.5,842.1 L1071.3,782.4 L1145.1,759.3 L1218.9,753.4" fill="none" stroke="#0000ff" stroke-opacity="0.5" stroke-width="1.0"/>
<circle cx="923.7" cy="758.2" r="3.2" fill="#a8a8ff"/>
<circle cx="997.5" cy="722.4" r="3.2" fill="#a8a8ff"/>
<circle cx="1071.3" cy="691.2" r="3.2" fill="#a8a8ff"/>
<circle cx="1145.1" cy="684.5" r="3.2" fill="#a8a8ff"/>
<circle cx="1218.9" cy="682.5" r="3.2" fill="#a8a8ff"/>
<circle cx="923.7" cy="946.8" r="3.0" fill="#fff" stroke="#b0b0ff" stroke-width="1.0"/>
<circle cx="997.5" cy="907.2" r="3.0" fill="#fff" stroke="#b0b0ff" stroke-width="1.0"/>
<circle cx="1071.3" cy="902.8" r="3.0" fill="#fff" stroke="#b0b0ff" stroke-width="1.0"/>
<circle cx="1145.1" cy="886.6" r="3.0" fill="#fff" stroke="#b0b0ff" stroke-width="1.0"/>
<circle cx="1218.9" cy="841.0" r="3.0" fill="#fff" stroke="#b0b0ff" stroke-width="1.0"/>
<circle cx="923.7" cy="829.0" r="3.2" fill="#5c5cff"/>
<circle cx="997.5" cy="772.6" r="3.2" fill="#5c5cff"/>
<circle cx="1071.3" cy="748.6" r="3.2" fill="#5c5cff"/>
<circle cx="1145.1" cy="736.6" r="3.2" fill="#5c5cff"/>
<circle cx="1218.9" cy="707.3" r="3.2" fill="#5c5cff"/>
<circle cx="923.7" cy="926.9" r="3.0" fill="#fff" stroke="#3030ff" stroke-width="1.0"/>
<circle cx="997.5" cy="884.1" r="3.0" fill="#fff" stroke="#3030ff" stroke-width="1.0"/>
<circle cx="1071.3" cy="867.5" r="3.0" fill="#fff" stroke="#3030ff" stroke-width="1.0"/>
<circle cx="1145.1" cy="832.8" r="3.0" fill="#fff" stroke="#3030ff" stroke-width="1.0"/>
<circle cx="1218.9" cy="796.8" r="3.0" fill="#fff" stroke="#3030ff" stroke-width="1.0"/>
<circle cx="923.7" cy="866.4" r="3.2" fill="#0000ff"/>
<circle cx="997.5" cy="842.1" r="3.2" fill="#0000ff"/>
<circle cx="1071.3" cy="782.4" r="3.2" fill="#0000ff"/>
<circle cx="1145.1" cy="759.3" r="3.2" fill="#0000ff"/>
<circle cx="1218.9" cy="753.4" r="3.2" fill="#0000ff"/>
<text x="648.80" y="105.30" font-size="20.70" fill="#000" textLength="115.42" lengthAdjust="spacingAndGlyphs" stroke="#000" stroke-width="0.3" >FoE offset (°)</text>
<circle cx="665.2" cy="124.3" r="4.4" fill="#adadad"/>
<circle cx="684.3" cy="124.3" r="4.4" fill="#a8a8ff"/>
<text x="712.24" y="131.30" font-size="20.40" fill="#000" textLength="22.69" lengthAdjust="spacingAndGlyphs" stroke="#000" stroke-width="0.3" >20</text>
<circle cx="665.2" cy="150.7" r="4.4" fill="#666666"/>
<circle cx="684.3" cy="150.7" r="4.4" fill="#5c5cff"/>
<text x="711.98" y="157.70" font-size="20.40" fill="#000" textLength="22.69" lengthAdjust="spacingAndGlyphs" stroke="#000" stroke-width="0.3" >10</text>
<circle cx="665.2" cy="177.4" r="4.4" fill="#000000"/>
<circle cx="684.3" cy="177.4" r="4.4" fill="#0000ff"/>
<text x="718.03" y="184.40" font-size="20.40" fill="#000" textLength="11.35" lengthAdjust="spacingAndGlyphs" stroke="#000" stroke-width="0.3" >0</text>
<circle cx="665.2" cy="204.6" r="4.4" fill="#fff" stroke="#4d4d4d" stroke-width="1.2"/>
<circle cx="684.3" cy="204.6" r="4.4" fill="#fff" stroke="#3030ff" stroke-width="1.2"/>
<text x="708.40" y="211.60" font-size="20.40" fill="#000" textLength="29.48" lengthAdjust="spacingAndGlyphs" stroke="#000" stroke-width="0.3" >-10</text>
<circle cx="665.2" cy="230.8" r="4.4" fill="#fff" stroke="#b3b3b3" stroke-width="1.2"/>
<circle cx="684.3" cy="230.8" r="4.4" fill="#fff" stroke="#b0b0ff" stroke-width="1.2"/>
<text x="708.40" y="237.80" font-size="20.40" fill="#000" textLength="29.48" lengthAdjust="spacingAndGlyphs" stroke="#000" stroke-width="0.3" >-20</text>
<rect x="131.5" y="1153.0" width="303.5" height="71.4" rx="20" ry="20" fill="#cfcfcf"/>
<text x="149.09" y="1180.00" font-size="30.80" fill="#000" textLength="275.67" lengthAdjust="spacingAndGlyphs" stroke="#000" stroke-width="0.3" >Interaction between</text>
<text x="179.14" y="1217.90" font-size="30.80" fill="#000" textLength="215.46" lengthAdjust="spacingAndGlyphs" stroke="#000" stroke-width="0.3" >load and offsets</text>
<rect x="641.8" y="1152.9" width="303.5" height="72.4" rx="20" ry="20" fill="#cfcfcf"/>
<text x="655.07" y="1180.40" font-size="30.80" fill="#000" textLength="276.79" lengthAdjust="spacingAndGlyphs" stroke="#000" stroke-width="0.3" >Interaction between</text>
<text x="700.24" y="1217.60" font-size="30.80" fill="#000" textLength="187.21" lengthAdjust="spacingAndGlyphs" stroke="#000" stroke-width="0.3" >load and FoEs</text>
<rect x="1054.2" y="1111.5" width="347.1" height="113.5" rx="20" ry="20" fill="#cfcfcf"/>
<text x="1091.08" y="1138.60" font-size="30.80" fill="#000" textLength="276.18" lengthAdjust="spacingAndGlyphs" stroke="#000" stroke-width="0.3" >Interaction between</text>
<text x="1068.61" y="1176.60" font-size="30.80" fill="#000" textLength="322.69" lengthAdjust="spacingAndGlyphs" stroke="#000" stroke-width="0.3" >experiments and offsets</text>
<text x="1089.79" y="1215.20" font-size="30.80" fill="#000" textLength="280.46" lengthAdjust="spacingAndGlyphs" stroke="#000" stroke-width="0.3" >in the load condition</text>
<text x="22.58" y="1182.90" font-size="44.00" fill="#000" textLength="23.82" lengthAdjust="spacingAndGlyphs" stroke="#000" stroke-width="0.3" >e</text>
<text x="518.55" y="1181.90" font-size="44.00" fill="#000" textLength="16.66" lengthAdjust="spacingAndGlyphs" stroke="#000" stroke-width="0.3" >f</text>
<text x="1003.01" y="1183.50" font-size="44.00" fill="#000" textLength="13.76" lengthAdjust="spacingAndGlyphs" stroke="#000" stroke-width="0.3" >j</text>
<text x="25.52" y="1724.60" font-size="44.00" fill="#000" textLength="26.22" lengthAdjust="spacingAndGlyphs" stroke="#000" stroke-width="0.3" >g</text>
<text x="512.90" y="1724.70" font-size="44.00" fill="#000" textLength="26.50" lengthAdjust="spacingAndGlyphs" stroke="#000" stroke-width="0.3" >h</text>
<rect x="6.2" y="1300.3" width="57.9" height="246.6" rx="18" ry="18" fill="#cfcfcf"/>
<text transform="rotate(-90)" x="-1526.51" y="46.50" font-size="35.50" fill="#000" textLength="202.09" lengthAdjust="spacingAndGlyphs" stroke="#000" stroke-width="0.3">Experiment 1</text>
<rect x="6.6" y="1803.1" width="57.6" height="247.7" rx="18" ry="18" fill="#cfcfcf"/>
<text transform="rotate(-90)" x="-2029.82" y="46.50" font-size="35.50" fill="#000" textLength="202.24" lengthAdjust="spacingAndGlyphs" stroke="#000" stroke-width="0.3">Experiment 2</text>
<path d="M164.2,1241.3 V1610.1 H410.6" fill="none" stroke="#3c3c3c" stroke-width="1.5"/>
<line x1="164.2" y1="1241.30" x2="174.7" y2="1241.30" stroke="#3c3c3c" stroke-width="1.5"/>
<text x="125.45" y="1252.45" font-size="29.70" fill="#000" textLength="32.37" lengthAdjust="spacingAndGlyphs" stroke="#000" stroke-width="0.3" >15</text>
<line x1="164.2" y1="1302.77" x2="174.7" y2="1302.77" stroke="#3c3c3c" stroke-width="1.5"/>
<text x="125.36" y="1313.92" font-size="29.70" fill="#000" textLength="32.37" lengthAdjust="spacingAndGlyphs" stroke="#000" stroke-width="0.3" >10</text>
<line x1="164.2" y1="1364.23" x2="174.7" y2="1364.23" stroke="#3c3c3c" stroke-width="1.5"/>
<text x="141.63" y="1375.38" font-size="29.70" fill="#000" textLength="16.19" lengthAdjust="spacingAndGlyphs" stroke="#000" stroke-width="0.3" >5</text>
<line x1="164.2" y1="1425.70" x2="174.7" y2="1425.70" stroke="#3c3c3c" stroke-width="1.5"/>
<text x="141.55" y="1436.85" font-size="29.70" fill="#000" textLength="16.19" lengthAdjust="spacingAndGlyphs" stroke="#000" stroke-width="0.3" >0</text>
<line x1="164.2" y1="1487.17" x2="174.7" y2="1487.17" stroke="#3c3c3c" stroke-width="1.5"/>
<text x="131.94" y="1498.32" font-size="29.70" fill="#000" textLength="25.88" lengthAdjust="spacingAndGlyphs" stroke="#000" stroke-width="0.3" >-5</text>
<line x1="164.2" y1="1548.63" x2="174.7" y2="1548.63" stroke="#3c3c3c" stroke-width="1.5"/>
<text x="115.67" y="1559.78" font-size="29.70" fill="#000" textLength="42.07" lengthAdjust="spacingAndGlyphs" stroke="#000" stroke-width="0.3" >-10</text>
<text x="115.75" y="1621.25" font-size="29.70" fill="#000" textLength="42.07" lengthAdjust="spacingAndGlyphs" stroke="#000" stroke-width="0.3" >-15</text>
<line x1="225.60" y1="1610.1" x2="225.60" y2="1599.1" stroke="#3c3c3c" stroke-width="1.5"/>
<line x1="349.00" y1="1610.1" x2="349.00" y2="1599.1" stroke="#3c3c3c" stroke-width="1.5"/>
<text transform="rotate(-90)" x="-1603.91" y="105.00" font-size="30.80" fill="#000" textLength="357.73" lengthAdjust="spacingAndGlyphs" stroke="#000" stroke-width="0.3">Residual estimation error(°)</text>
<text x="171.24" y="1641.30" font-size="31.30" fill="#000" textLength="109.27" lengthAdjust="spacingAndGlyphs" stroke="#000" stroke-width="0.3" >No-load</text>
<text x="316.12" y="1641.30" font-size="31.30" fill="#000" textLength="67.23" lengthAdjust="spacingAndGlyphs" stroke="#000" stroke-width="0.3" >Load</text>
<path d="M164.2,1744.0 V2112.5 H410.6" fill="none" stroke="#3c3c3c" stroke-width="1.5"/>
<line x1="164.2" y1="1744.00" x2="174.7" y2="1744.00" stroke="#3c3c3c" stroke-width="1.5"/>
<text x="125.45" y="1755.15" font-size="29.70" fill="#000" textLength="32.37" lengthAdjust="spacingAndGlyphs" stroke="#000" stroke-width="0.3" >15</text>
<line x1="164.2" y1="1805.42" x2="174.7" y2="1805.42" stroke="#3c3c3c" stroke-width="1.5"/>
<text x="125.36" y="1816.57" font-size="29.70" fill="#000" textLength="32.37" lengthAdjust="spacingAndGlyphs" stroke="#000" stroke-width="0.3" >10</text>
<line x1="164.2" y1="1866.83" x2="174.7" y2="1866.83" stroke="#3c3c3c" stroke-width="1.5"/>
<text x="141.63" y="1877.98" font-size="29.70" fill="#000" textLength="16.19" lengthAdjust="spacingAndGlyphs" stroke="#000" stroke-width="0.3" >5</text>
<line x1="164.2" y1="1928.25" x2="174.7" y2="1928.25" stroke="#3c3c3c" stroke-width="1.5"/>
<text x="141.55" y="1939.40" font-size="29.70" fill="#000" textLength="16.19" lengthAdjust="spacingAndGlyphs" stroke="#000" stroke-width="0.3" >0</text>
<line x1="164.2" y1="1989.67" x2="174.7" y2="1989.67" stroke="#3c3c3c" stroke-width="1.5"/>
<text x="131.94" y="2000.82" font-size="29.70" fill="#000" textLength="25.88" lengthAdjust="spacingAndGlyphs" stroke="#000" stroke-width="0.3" >-5</text>
<line x1="164.2" y1="2051.08" x2="174.7" y2="2051.08" stroke="#3c3c3c" stroke-width="1.5"/>
<text x="115.67" y="2062.23" font-size="29.70" fill="#000" textLength="42.07" lengthAdjust="spacingAndGlyphs" stroke="#000" stroke-width="0.3" >-10</text>
<text x="115.75" y="2123.65" font-size="29.70" fill="#000" textLength="42.07" lengthAdjust="spacingAndGlyphs" stroke="#000" stroke-width="0.3" >-15</text>
<line x1="225.60" y1="2112.5" x2="225.60" y2="2101.5" stroke="#3c3c3c" stroke-width="1.5"/>
<line x1="349.00" y1="2112.5" x2="349.00" y2="2101.5" stroke="#3c3c3c" stroke-width="1.5"/>
<text transform="rotate(-90)" x="-2106.31" y="105.00" font-size="30.80" fill="#000" textLength="357.43" lengthAdjust="spacingAndGlyphs" stroke="#000" stroke-width="0.3">Residual estimation error(°)</text>
<text x="171.24" y="2142.60" font-size="31.30" fill="#000" textLength="109.27" lengthAdjust="spacingAndGlyphs" stroke="#000" stroke-width="0.3" >No-load</text>
<text x="316.12" y="2142.60" font-size="31.30" fill="#000" textLength="67.23" lengthAdjust="spacingAndGlyphs" stroke="#000" stroke-width="0.3" >Load</text>
<path d="M609.4,1241.1 V1609.9 H978.1" fill="none" stroke="#3c3c3c" stroke-width="1.5"/>
<line x1="609.4" y1="1241.10" x2="619.9" y2="1241.10" stroke="#3c3c3c" stroke-width="1.5"/>
<text x="570.65" y="1252.25" font-size="29.70" fill="#000" textLength="32.37" lengthAdjust="spacingAndGlyphs" stroke="#000" stroke-width="0.3" >15</text>
<line x1="609.4" y1="1302.57" x2="619.9" y2="1302.57" stroke="#3c3c3c" stroke-width="1.5"/>
<text x="570.56" y="1313.72" font-size="29.70" fill="#000" textLength="32.37" lengthAdjust="spacingAndGlyphs" stroke="#000" stroke-width="0.3" >10</text>
<line x1="609.4" y1="1364.03" x2="619.9" y2="1364.03" stroke="#3c3c3c" stroke-width="1.5"/>
<text x="586.83" y="1375.18" font-size="29.70" fill="#000" textLength="16.19" lengthAdjust="spacingAndGlyphs" stroke="#000" stroke-width="0.3" >5</text>
<line x1="609.4" y1="1425.50" x2="619.9" y2="1425.50" stroke="#3c3c3c" stroke-width="1.5"/>
<text x="586.75" y="1436.65" font-size="29.70" fill="#000" textLength="16.19" lengthAdjust="spacingAndGlyphs" stroke="#000" stroke-width="0.3" >0</text>
<line x1="609.4" y1="1486.97" x2="619.9" y2="1486.97" stroke="#3c3c3c" stroke-width="1.5"/>
<text x="577.14" y="1498.12" font-size="29.70" fill="#000" textLength="25.88" lengthAdjust="spacingAndGlyphs" stroke="#000" stroke-width="0.3" >-5</text>
<line x1="609.4" y1="1548.43" x2="619.9" y2="1548.43" stroke="#3c3c3c" stroke-width="1.5"/>
<text x="560.87" y="1559.58" font-size="29.70" fill="#000" textLength="42.07" lengthAdjust="spacingAndGlyphs" stroke="#000" stroke-width="0.3" >-10</text>
<text x="560.95" y="1621.05" font-size="29.70" fill="#000" textLength="42.07" lengthAdjust="spacingAndGlyphs" stroke="#000" stroke-width="0.3" >-15</text>
<line x1="646.10" y1="1609.9" x2="646.10" y2="1598.9" stroke="#3c3c3c" stroke-width="1.5"/>
<line x1="719.80" y1="1609.9" x2="719.80" y2="1598.9" stroke="#3c3c3c" stroke-width="1.5"/>
<line x1="793.50" y1="1609.9" x2="793.50" y2="1598.9" stroke="#3c3c3c" stroke-width="1.5"/>
<line x1="867.20" y1="1609.9" x2="867.20" y2="1598.9" stroke="#3c3c3c" stroke-width="1.5"/>
<line x1="940.90" y1="1609.9" x2="940.90" y2="1598.9" stroke="#3c3c3c" stroke-width="1.5"/>
<text transform="rotate(-90)" x="-1603.71" y="550.20" font-size="30.80" fill="#000" textLength="357.73" lengthAdjust="spacingAndGlyphs" stroke="#000" stroke-width="0.3">Residual estimation error(°)</text>
<text x="623.99" y="1641.50" font-size="29.70" fill="#000" textLength="42.07" lengthAdjust="spacingAndGlyphs" stroke="#000" stroke-width="0.3" >-20</text>
<text x="697.69" y="1641.50" font-size="29.70" fill="#000" textLength="42.07" lengthAdjust="spacingAndGlyphs" stroke="#000" stroke-width="0.3" >-10</text>
<text x="785.41" y="1641.50" font-size="29.70" fill="#000" textLength="16.19" lengthAdjust="spacingAndGlyphs" stroke="#000" stroke-width="0.3" >0</text>
<text x="850.47" y="1641.50" font-size="29.70" fill="#000" textLength="32.37" lengthAdjust="spacingAndGlyphs" stroke="#000" stroke-width="0.3" >10</text>
<text x="924.55" y="1641.50" font-size="29.70" fill="#000" textLength="32.37" lengthAdjust="spacingAndGlyphs" stroke="#000" stroke-width="0.3" >20</text>
<text x="675.44" y="1677.60" font-size="31.00" fill="#000" textLength="240.35" lengthAdjust="spacingAndGlyphs" stroke="#000" stroke-width="0.3" >Actual flow FoE (°)</text>
<path d="M609.4,1744.7 V2113.4 H978.1" fill="none" stroke="#3c3c3c" stroke-width="1.5"/>
<line x1="609.4" y1="1744.70" x2="619.9" y2="1744.70" stroke="#3c3c3c" stroke-width="1.5"/>
<text x="570.65" y="1755.85" font-size="29.70" fill="#000" textLength="32.37" lengthAdjust="spacingAndGlyphs" stroke="#000" stroke-width="0.3" >15</text>
<line x1="609.4" y1="1806.15" x2="619.9" y2="1806.15" stroke="#3c3c3c" stroke-width="1.5"/>
<text x="570.56" y="1817.30" font-size="29.70" fill="#000" textLength="32.37" lengthAdjust="spacingAndGlyphs" stroke="#000" stroke-width="0.3" >10</text>
<line x1="609.4" y1="1867.60" x2="619.9" y2="1867.60" stroke="#3c3c3c" stroke-width="1.5"/>
<text x="586.83" y="1878.75" font-size="29.70" fill="#000" textLength="16.19" lengthAdjust="spacingAndGlyphs" stroke="#000" stroke-width="0.3" >5</text>
<line x1="609.4" y1="1929.05" x2="619.9" y2="1929.05" stroke="#3c3c3c" stroke-width="1.5"/>
<text x="586.75" y="1940.20" font-size="29.70" fill="#000" textLength="16.19" lengthAdjust="spacingAndGlyphs" stroke="#000" stroke-width="0.3" >0</text>
<line x1="609.4" y1="1990.50" x2="619.9" y2="1990.50" stroke="#3c3c3c" stroke-width="1.5"/>
<text x="577.14" y="2001.65" font-size="29.70" fill="#000" textLength="25.88" lengthAdjust="spacingAndGlyphs" stroke="#000" stroke-width="0.3" >-5</text>
<line x1="609.4" y1="2051.95" x2="619.9" y2="2051.95" stroke="#3c3c3c" stroke-width="1.5"/>
<text x="560.87" y="2063.10" font-size="29.70" fill="#000" textLength="42.07" lengthAdjust="spacingAndGlyphs" stroke="#000" stroke-width="0.3" >-10</text>
<text x="560.95" y="2124.55" font-size="29.70" fill="#000" textLength="42.07" lengthAdjust="spacingAndGlyphs" stroke="#000" stroke-width="0.3" >-15</text>
<line x1="646.10" y1="2113.4" x2="646.10" y2="2102.4" stroke="#3c3c3c" stroke-width="1.5"/>
<line x1="719.80" y1="2113.4" x2="719.80" y2="2102.4" stroke="#3c3c3c" stroke-width="1.5"/>
<line x1="793.50" y1="2113.4" x2="793.50" y2="2102.4" stroke="#3c3c3c" stroke-width="1.5"/>
<line x1="867.20" y1="2113.4" x2="867.20" y2="2102.4" stroke="#3c3c3c" stroke-width="1.5"/>
<line x1="940.90" y1="2113.4" x2="940.90" y2="2102.4" stroke="#3c3c3c" stroke-width="1.5"/>
<text transform="rotate(-90)" x="-2107.21" y="550.20" font-size="30.80" fill="#000" textLength="357.63" lengthAdjust="spacingAndGlyphs" stroke="#000" stroke-width="0.3">Residual estimation error(°)</text>
<text x="623.99" y="2143.00" font-size="29.70" fill="#000" textLength="42.07" lengthAdjust="spacingAndGlyphs" stroke="#000" stroke-width="0.3" >-20</text>
<text x="697.69" y="2143.00" font-size="29.70" fill="#000" textLength="42.07" lengthAdjust="spacingAndGlyphs" stroke="#000" stroke-width="0.3" >-10</text>
<text x="785.41" y="2143.00" font-size="29.70" fill="#000" textLength="16.19" lengthAdjust="spacingAndGlyphs" stroke="#000" stroke-width="0.3" >0</text>
<text x="850.47" y="2143.00" font-size="29.70" fill="#000" textLength="32.37" lengthAdjust="spacingAndGlyphs" stroke="#000" stroke-width="0.3" >10</text>
<text x="924.55" y="2143.00" font-size="29.70" fill="#000" textLength="32.37" lengthAdjust="spacingAndGlyphs" stroke="#000" stroke-width="0.3" >20</text>
<text x="672.34" y="2180.10" font-size="31.00" fill="#000" textLength="245.95" lengthAdjust="spacingAndGlyphs" stroke="#000" stroke-width="0.3" >Actual form FoE (°)</text>
<path d="M1105.1,1241.6 V1610.8 H1350.1" fill="none" stroke="#3c3c3c" stroke-width="1.5"/>
<line x1="1105.1" y1="1241.60" x2="1115.6" y2="1241.60" stroke="#3c3c3c" stroke-width="1.5"/>
<text x="1066.35" y="1252.75" font-size="29.70" fill="#000" textLength="32.37" lengthAdjust="spacingAndGlyphs" stroke="#000" stroke-width="0.3" >15</text>
<line x1="1105.1" y1="1303.13" x2="1115.6" y2="1303.13" stroke="#3c3c3c" stroke-width="1.5"/>
<text x="1066.26" y="1314.28" font-size="29.70" fill="#000" textLength="32.37" lengthAdjust="spacingAndGlyphs" stroke="#000" stroke-width="0.3" >10</text>
<line x1="1105.1" y1="1364.67" x2="1115.6" y2="1364.67" stroke="#3c3c3c" stroke-width="1.5"/>
<text x="1082.53" y="1375.82" font-size="29.70" fill="#000" textLength="16.19" lengthAdjust="spacingAndGlyphs" stroke="#000" stroke-width="0.3" >5</text>
<line x1="1105.1" y1="1426.20" x2="1115.6" y2="1426.20" stroke="#3c3c3c" stroke-width="1.5"/>
<text x="1082.45" y="1437.35" font-size="29.70" fill="#000" textLength="16.19" lengthAdjust="spacingAndGlyphs" stroke="#000" stroke-width="0.3" >0</text>
<line x1="1105.1" y1="1487.73" x2="1115.6" y2="1487.73" stroke="#3c3c3c" stroke-width="1.5"/>
<text x="1072.84" y="1498.88" font-size="29.70" fill="#000" textLength="25.88" lengthAdjust="spacingAndGlyphs" stroke="#000" stroke-width="0.3" >-5</text>
<line x1="1105.1" y1="1549.27" x2="1115.6" y2="1549.27" stroke="#3c3c3c" stroke-width="1.5"/>
<text x="1056.57" y="1560.42" font-size="29.70" fill="#000" textLength="42.07" lengthAdjust="spacingAndGlyphs" stroke="#000" stroke-width="0.3" >-10</text>
<text x="1056.65" y="1621.95" font-size="29.70" fill="#000" textLength="42.07" lengthAdjust="spacingAndGlyphs" stroke="#000" stroke-width="0.3" >-15</text>
<line x1="1166.30" y1="1610.8" x2="1166.30" y2="1599.8" stroke="#3c3c3c" stroke-width="1.5"/>
<line x1="1288.90" y1="1610.8" x2="1288.90" y2="1599.8" stroke="#3c3c3c" stroke-width="1.5"/>
<text transform="rotate(-90)" x="-1604.61" y="1045.90" font-size="30.80" fill="#000" textLength="358.13" lengthAdjust="spacingAndGlyphs" stroke="#000" stroke-width="0.3">Residual estimation error(°)</text>
<text x="1123.20" y="1642.40" font-size="31.30" fill="#000" textLength="82.82" lengthAdjust="spacingAndGlyphs" stroke="#000" stroke-width="0.3" >Expt 1</text>
<text x="1246.73" y="1642.40" font-size="31.30" fill="#000" textLength="85.28" lengthAdjust="spacingAndGlyphs" stroke="#000" stroke-width="0.3" >Expt 2</text>
<line x1="170.2" y1="1425.70" x2="418.5" y2="1425.70" stroke="#8a8a8a" stroke-width="1.4" stroke-dasharray="12,11"/>
<line x1="225.6" y1="1397.2" x2="349.0" y2="1364.7" stroke="#8a8a8a" stroke-width="1.1" stroke-dasharray="3,1.5"/>
<line x1="225.6" y1="1409.2" x2="349.0" y2="1392.3" stroke="#8a8a8a" stroke-width="1.1" stroke-dasharray="3,1.5"/>
<line x1="225.6" y1="1423.2" x2="349.0" y2="1426.1" stroke="#777" stroke-width="1.1"/>
<line x1="225.6" y1="1439.6" x2="349.0" y2="1453.0" stroke="#8a8a8a" stroke-width="1.1" stroke-dasharray="3,1.5"/>
<line x1="225.6" y1="1440.9" x2="349.0" y2="1478.3" stroke="#8a8a8a" stroke-width="1.1" stroke-dasharray="3,1.5"/>
<path d="M225.6,1386.6 V1407.3 M222.4,1386.6 H228.8 M222.4,1407.3 H228.8" stroke="#adadad" stroke-width="1.2" fill="none" stroke-opacity="1.0"/>
<circle cx="225.6" cy="1397.2" r="3.4" fill="#adadad"/>
<path d="M349.0,1349.6 V1378.9 M345.8,1349.6 H352.2 M345.8,1378.9 H352.2" stroke="#a8a8ff" stroke-width="1.2" fill="none" stroke-opacity="1.0"/>
<circle cx="349.0" cy="1364.7" r="3.4" fill="#a8a8ff"/>
<path d="M225.6,1403.6 V1414.6 M222.4,1403.6 H228.8 M222.4,1414.6 H228.8" stroke="#666666" stroke-width="1.2" fill="none" stroke-opacity="1.0"/>
<circle cx="225.6" cy="1409.2" r="3.4" fill="#666666"/>
<path d="M349.0,1381.7 V1401.9 M345.8,1381.7 H352.2 M345.8,1401.9 H352.2" stroke="#5c5cff" stroke-width="1.2" fill="none" stroke-opacity="1.0"/>
<circle cx="349.0" cy="1392.3" r="3.4" fill="#5c5cff"/>
<path d="M225.6,1414.9 V1431.1 M222.4,1414.9 H228.8 M222.4,1431.1 H228.8" stroke="#000000" stroke-width="1.2" fill="none" stroke-opacity="1.0"/>
<circle cx="225.6" cy="1423.2" r="3.4" fill="#000000"/>
<path d="M349.0,1417.0 V1435.8 M345.8,1417.0 H352.2 M345.8,1435.8 H352.2" stroke="#0000ff" stroke-width="1.2" fill="none" stroke-opacity="1.0"/>
<circle cx="349.0" cy="1426.1" r="3.4" fill="#0000ff"/>
<path d="M225.6,1433.1 V1446.6 M222.4,1433.1 H228.8 M222.4,1446.6 H228.8" stroke="#4d4d4d" stroke-width="1.2" fill="none" stroke-opacity="1.0"/>
<circle cx="225.6" cy="1439.6" r="3.4" fill="#fff" stroke="#4d4d4d" stroke-width="1.2"/>
<path d="M349.0,1441.7 V1465.7 M345.8,1441.7 H352.2 M345.8,1465.7 H352.2" stroke="#3030ff" stroke-width="1.2" fill="none" stroke-opacity="1.0"/>
<circle cx="349.0" cy="1453.0" r="3.4" fill="#fff" stroke="#3030ff" stroke-width="1.2"/>
<path d="M225.6,1429.4 V1453.6 M222.4,1429.4 H228.8 M222.4,1453.6 H228.8" stroke="#b3b3b3" stroke-width="1.2" fill="none" stroke-opacity="1.0"/>
<circle cx="225.6" cy="1440.9" r="3.4" fill="#fff" stroke="#b3b3b3" stroke-width="1.2"/>
<path d="M349.0,1461.4 V1496.4 M345.8,1461.4 H352.2 M345.8,1496.4 H352.2" stroke="#b0b0ff" stroke-width="1.2" fill="none" stroke-opacity="1.0"/>
<circle cx="349.0" cy="1478.3" r="3.4" fill="#fff" stroke="#b0b0ff" stroke-width="1.2"/>
<path d="M209.5,1397.2 H204.0 V1440.5 H209.5" fill="none" stroke="#555" stroke-width="1.3"/>
<path d="M220.3,1409.2 H214.8 V1439.5 H220.3" fill="none" stroke="#222" stroke-width="1.3"/>
<path d="M200.47,1416.45L200.47,1423.05M197.61,1418.10L203.32,1421.40M197.61,1421.40L203.32,1418.10" stroke="#000" stroke-width="1.35" fill="none"/>
<path d="M209.92,1422.59L209.92,1429.19M207.06,1424.24L212.78,1427.54M207.06,1427.54L212.78,1424.24M209.92,1415.39L209.92,1421.99M207.06,1417.04L212.78,1420.34M207.06,1420.34L212.78,1417.04" stroke="#000" stroke-width="1.35" fill="none"/>
<path d="M357.1,1364.7 H362.1 V1390.1 H357.1" fill="none" stroke="#aaa" stroke-width="1.3"/>
<path d="M357.1,1392.2 H362.1 V1423.3 H357.1" fill="none" stroke="#aaa" stroke-width="1.3"/>
<path d="M356.1,1426.1 H361.1 V1478.3 H356.1" fill="none" stroke="#444" stroke-width="1.3"/>
<path d="M366.03,1374.53L366.03,1381.13M363.17,1376.18L368.88,1379.48M363.17,1379.48L368.88,1376.18" stroke="#000" stroke-width="1.35" fill="none"/>
<path d="M366.03,1410.87L366.03,1417.47M363.17,1412.52L368.88,1415.82M363.17,1415.82L368.88,1412.52M366.03,1403.67L366.03,1410.27M363.17,1405.32L368.88,1408.62M363.17,1408.62L368.88,1405.32" stroke="#000" stroke-width="1.35" fill="none"/>
<path d="M366.03,1448.20L366.03,1454.80M363.17,1449.85L368.88,1453.15M363.17,1453.15L368.88,1449.85" stroke="#000" stroke-width="1.35" fill="none"/>
<path d="M290.09,1458.37L290.09,1464.97M287.23,1460.02L292.95,1463.32M287.23,1463.32L292.95,1460.02" stroke="#000" stroke-width="1.35" fill="none"/>
<line x1="170.2" y1="1928.25" x2="418.5" y2="1928.25" stroke="#8a8a8a" stroke-width="1.4" stroke-dasharray="12,11"/>
<line x1="225.6" y1="1890.4" x2="349.0" y2="1818.6" stroke="#8a8a8a" stroke-width="1.1"/>
<line x1="225.6" y1="1904.1" x2="349.0" y2="1869.2" stroke="#8a8a8a" stroke-width="1.1" stroke-dasharray="3,1.5"/>
<line x1="225.6" y1="1937.8" x2="349.0" y2="1911.4" stroke="#8a8a8a" stroke-width="1.1" stroke-dasharray="3,1.5"/>
<line x1="225.6" y1="1957.2" x2="349.0" y2="1971.2" stroke="#8a8a8a" stroke-width="1.1" stroke-dasharray="3,1.5"/>
<line x1="225.6" y1="1972.0" x2="349.0" y2="2006.7" stroke="#8a8a8a" stroke-width="1.1" stroke-dasharray="3,1.5"/>
<path d="M225.6,1883.2 V1897.8 M222.4,1883.2 H228.8 M222.4,1897.8 H228.8" stroke="#adadad" stroke-width="1.2" fill="none" stroke-opacity="1.0"/>
<circle cx="225.6" cy="1890.4" r="3.4" fill="#adadad"/>
<path d="M349.0,1806.0 V1830.6 M345.8,1806.0 H352.2 M345.8,1830.6 H352.2" stroke="#a8a8ff" stroke-width="1.2" fill="none" stroke-opacity="1.0"/>
<circle cx="349.0" cy="1818.6" r="3.4" fill="#a8a8ff"/>
<path d="M225.6,1900.4 V1908.8 M222.4,1900.4 H228.8 M222.4,1908.8 H228.8" stroke="#666666" stroke-width="1.2" fill="none" stroke-opacity="1.0"/>
<circle cx="225.6" cy="1904.1" r="3.4" fill="#666666"/>
<path d="M349.0,1859.2 V1879.5 M345.8,1859.2 H352.2 M345.8,1879.5 H352.2" stroke="#5c5cff" stroke-width="1.2" fill="none" stroke-opacity="1.0"/>
<circle cx="349.0" cy="1869.2" r="3.4" fill="#5c5cff"/>
<path d="M225.6,1933.4 V1942.6 M222.4,1933.4 H228.8 M222.4,1942.6 H228.8" stroke="#000000" stroke-width="1.2" fill="none" stroke-opacity="1.0"/>
<circle cx="225.6" cy="1937.8" r="3.4" fill="#000000"/>
<path d="M349.0,1902.2 V1920.5 M345.8,1902.2 H352.2 M345.8,1920.5 H352.2" stroke="#0000ff" stroke-width="1.2" fill="none" stroke-opacity="1.0"/>
<circle cx="349.0" cy="1911.4" r="3.4" fill="#0000ff"/>
<path d="M225.6,1951.0 V1963.9 M222.4,1951.0 H228.8 M222.4,1963.9 H228.8" stroke="#4d4d4d" stroke-width="1.2" fill="none" stroke-opacity="1.0"/>
<circle cx="225.6" cy="1957.2" r="3.4" fill="#fff" stroke="#4d4d4d" stroke-width="1.2"/>
<path d="M349.0,1958.3 V1984.8 M345.8,1958.3 H352.2 M345.8,1984.8 H352.2" stroke="#3030ff" stroke-width="1.2" fill="none" stroke-opacity="1.0"/>
<circle cx="349.0" cy="1971.2" r="3.4" fill="#fff" stroke="#3030ff" stroke-width="1.2"/>
<path d="M225.6,1962.8 V1981.1 M222.4,1962.8 H228.8 M222.4,1981.1 H228.8" stroke="#b3b3b3" stroke-width="1.2" fill="none" stroke-opacity="1.0"/>
<circle cx="225.6" cy="1972.0" r="3.4" fill="#fff" stroke="#b3b3b3" stroke-width="1.2"/>
<path d="M349.0,1989.5 V2024.4 M345.8,1989.5 H352.2 M345.8,2024.4 H352.2" stroke="#b0b0ff" stroke-width="1.2" fill="none" stroke-opacity="1.0"/>
<circle cx="349.0" cy="2006.7" r="3.4" fill="#fff" stroke="#b0b0ff" stroke-width="1.2"/>
<path d="M218.6,1904.0 H213.6 V1935.2 H218.6" fill="none" stroke="#222" stroke-width="1.3"/>
<path d="M206.1,1939.6 H201.1 V1973.8 H206.1" fill="none" stroke="#222" stroke-width="1.3"/>
<path d="M218.6,1939.6 H213.6 V1957.2 H218.6" fill="none" stroke="#222" stroke-width="1.3"/>
<path d="M209.17,1925.18L209.17,1931.78M206.32,1926.83L212.03,1930.13M206.32,1930.13L212.03,1926.83M209.17,1917.98L209.17,1924.58M206.32,1919.63L212.03,1922.93M206.32,1922.93L212.03,1919.63M209.17,1910.78L209.17,1917.38M206.32,1912.43L212.03,1915.73M206.32,1915.73L212.03,1912.43" stroke="#000" stroke-width="1.35" fill="none"/>
<path d="M196.33,1957.55L196.33,1964.15M193.47,1959.20L199.19,1962.50M193.47,1962.50L199.19,1959.20M196.33,1950.35L196.33,1956.95M193.47,1952.00L199.19,1955.30M193.47,1955.30L199.19,1952.00" stroke="#000" stroke-width="1.35" fill="none"/>
<path d="M209.91,1945.87L209.91,1952.47M207.05,1947.52L212.77,1950.82M207.05,1950.82L212.77,1947.52" stroke="#000" stroke-width="1.35" fill="none"/>
<path d="M357.6,1816.0 H362.6 V1867.3 H357.6" fill="none" stroke="#444" stroke-width="1.3"/>
<path d="M357.6,1869.2 H362.6 V1909.5 H357.6" fill="none" stroke="#444" stroke-width="1.3"/>
<path d="M357.6,1911.4 H362.6 V1971.2 H357.6" fill="none" stroke="#bbb" stroke-width="1.3"/>
<path d="M357.6,1971.2 H362.6 V2006.8 H357.6" fill="none" stroke="#bbb" stroke-width="1.3"/>
<path d="M366.24,1843.72L366.24,1850.32M363.38,1845.37L369.10,1848.67M363.38,1848.67L369.10,1845.37M366.24,1836.52L366.24,1843.12M363.38,1838.17L369.10,1841.47M363.38,1841.47L369.10,1838.17M366.24,1829.32L366.24,1835.92M363.38,1830.97L369.10,1834.27M363.38,1834.27L369.10,1830.97" stroke="#000" stroke-width="1.35" fill="none"/>
<path d="M366.24,1893.26L366.24,1899.86M363.38,1894.91L369.10,1898.21M363.38,1898.21L369.10,1894.91M366.24,1886.06L366.24,1892.66M363.38,1887.71L369.10,1891.01M363.38,1891.01L369.10,1887.71M366.24,1878.86L366.24,1885.46M363.38,1880.51L369.10,1883.81M363.38,1883.81L369.10,1880.51" stroke="#000" stroke-width="1.35" fill="none"/>
<path d="M366.24,1946.47L366.24,1953.07M363.38,1948.12L369.10,1951.42M363.38,1951.42L369.10,1948.12M366.24,1939.27L366.24,1945.87M363.38,1940.92L369.10,1944.22M363.38,1944.22L369.10,1940.92M366.24,1932.07L366.24,1938.67M363.38,1933.72L369.10,1937.02M363.38,1937.02L369.10,1933.72" stroke="#000" stroke-width="1.35" fill="none"/>
<path d="M366.24,1986.24L366.24,1992.84M363.38,1987.89L369.10,1991.19M363.38,1991.19L369.10,1987.89" stroke="#000" stroke-width="1.35" fill="none"/>
<path d="M288.21,1848.26L288.21,1854.86M285.35,1849.91L291.07,1853.21M285.35,1853.21L291.07,1849.91M295.41,1848.26L295.41,1854.86M292.55,1849.91L298.27,1853.21M292.55,1853.21L298.27,1849.91M302.61,1848.26L302.61,1854.86M299.75,1849.91L305.47,1853.21M299.75,1853.21L305.47,1849.91" stroke="#000" stroke-width="1.35" fill="none"/>
<path d="M291.08,1883.12L291.08,1889.72M288.22,1884.77L293.94,1888.07M288.22,1888.07L293.94,1884.77M298.28,1883.12L298.28,1889.72M295.42,1884.77L301.14,1888.07M295.42,1888.07L301.14,1884.77" stroke="#000" stroke-width="1.35" fill="none"/>
<path d="M294.68,1920.92L294.68,1927.52M291.82,1922.57L297.54,1925.87M291.82,1925.87L297.54,1922.57" stroke="#000" stroke-width="1.35" fill="none"/>
<line x1="615.4" y1="1425.50" x2="986.1" y2="1425.50" stroke="#8a8a8a" stroke-width="1.4" stroke-dasharray="12,11"/>
<path d="M644.7,1354.6 V1349.1 H940.7 V1354.6" fill="none" stroke="#999" stroke-width="1.3"/>
<path d="M642.2,1496.1 V1501.6 H939.3 V1496.1" fill="none" stroke="#3333ff" stroke-width="1.6"/>
<path d="M784.05,1340.17L784.05,1346.77M781.19,1341.82L786.91,1345.12M781.19,1345.12L786.91,1341.82" stroke="#000" stroke-width="1.35" fill="none"/>
<path d="M786.52,1508.13L786.52,1514.73M783.66,1509.78L789.38,1513.08M783.66,1513.08L789.38,1509.78" stroke="#3333ff" stroke-width="1.35" fill="none"/>
<path d="M638.0,1402.8 H633.0 V1468.0 H638.0" fill="none" stroke="#666" stroke-width="1.3"/>
<path d="M628.79,1434.81L628.79,1441.41M625.94,1436.46L631.65,1439.76M625.94,1439.76L631.65,1436.46M628.79,1427.61L628.79,1434.21M625.94,1429.26L631.65,1432.56M625.94,1432.56L631.65,1429.26" stroke="#000" stroke-width="1.35" fill="none"/>
<path d="M713.2,1391.1 H708.2 V1439.4 H713.2" fill="none" stroke="#444" stroke-width="1.3"/>
<path d="M703.60,1416.11L703.60,1422.71M700.74,1417.76L706.46,1421.06M700.74,1421.06L706.46,1417.76M703.60,1408.91L703.60,1415.51M700.74,1410.56L706.46,1413.86M700.74,1413.86L706.46,1410.56" stroke="#777" stroke-width="1.35" fill="none"/>
<path d="M860.7,1395.7 H855.7 V1439.8 H860.7" fill="none" stroke="#aaa" stroke-width="1.3"/>
<path d="M851.80,1414.27L851.80,1420.87M848.94,1415.92L854.66,1419.22M848.94,1419.22L854.66,1415.92" stroke="#777" stroke-width="1.35" fill="none"/>
<path d="M646.1,1403.5 L719.8,1391.8 L793.5,1428.2 L867.2,1440.5 L940.9,1447.5" fill="none" stroke="#111" stroke-width="1.5"/>
<path d="M646.1,1468.0 L719.8,1439.8 L793.5,1417.5 L867.2,1396.4 L940.9,1392.9" fill="none" stroke="#0000ff" stroke-width="1.8"/>
<path d="M646.1,1390.0 V1417.0 M642.9,1390.0 H649.3 M642.9,1417.0 H649.3" stroke="#111" stroke-width="1.5" fill="none" stroke-opacity="1.0"/>
<circle cx="646.1" cy="1403.5" r="3.8" fill="#000"/>
<path d="M646.1,1451.8 V1483.6 M642.9,1451.8 H649.3 M642.9,1483.6 H649.3" stroke="#0000ff" stroke-width="1.6" fill="none" stroke-opacity="1.0"/>
<circle cx="646.1" cy="1468.0" r="3.8" fill="#0000ff"/>
<path d="M719.8,1380.5 V1402.9 M716.6,1380.5 H723.0 M716.6,1402.9 H723.0" stroke="#111" stroke-width="1.5" fill="none" stroke-opacity="1.0"/>
<circle cx="719.8" cy="1391.8" r="3.8" fill="#000"/>
<path d="M719.8,1427.1 V1452.2 M716.6,1427.1 H723.0 M716.6,1452.2 H723.0" stroke="#0000ff" stroke-width="1.6" fill="none" stroke-opacity="1.0"/>
<circle cx="719.8" cy="1439.8" r="3.8" fill="#0000ff"/>
<path d="M793.5,1420.6 V1435.3 M790.3,1420.6 H796.7 M790.3,1435.3 H796.7" stroke="#111" stroke-width="1.5" fill="none" stroke-opacity="1.0"/>
<circle cx="793.5" cy="1428.2" r="3.8" fill="#000"/>
<path d="M793.5,1409.4 V1425.5 M790.3,1409.4 H796.7 M790.3,1425.5 H796.7" stroke="#0000ff" stroke-width="1.6" fill="none" stroke-opacity="1.0"/>
<circle cx="793.5" cy="1417.5" r="3.8" fill="#0000ff"/>
<path d="M867.2,1429.9 V1451.8 M864.0,1429.9 H870.4 M864.0,1451.8 H870.4" stroke="#111" stroke-width="1.5" fill="none" stroke-opacity="1.0"/>
<circle cx="867.2" cy="1440.5" r="3.8" fill="#000"/>
<path d="M867.2,1381.5 V1410.5 M864.0,1381.5 H870.4 M864.0,1410.5 H870.4" stroke="#0000ff" stroke-width="1.6" fill="none" stroke-opacity="1.0"/>
<circle cx="867.2" cy="1396.4" r="3.8" fill="#0000ff"/>
<path d="M940.9,1434.1 V1460.8 M937.7,1434.1 H944.1 M937.7,1460.8 H944.1" stroke="#111" stroke-width="1.5" fill="none" stroke-opacity="1.0"/>
<circle cx="940.9" cy="1447.5" r="3.8" fill="#000"/>
<path d="M940.9,1371.0 V1414.1 M937.7,1371.0 H944.1 M937.7,1414.1 H944.1" stroke="#0000ff" stroke-width="1.6" fill="none" stroke-opacity="1.0"/>
<circle cx="940.9" cy="1392.9" r="3.8" fill="#0000ff"/>
<circle cx="866.1" cy="1275.7" r="4.7" fill="#000"/>
<circle cx="866.1" cy="1302.8" r="4.7" fill="#0000ff"/>
<line x1="615.4" y1="1929.05" x2="986.1" y2="1929.05" stroke="#8a8a8a" stroke-width="1.4" stroke-dasharray="12,11"/>
<path d="M645.7,2012.9 V2019.9 H942.1 V2012.9" fill="none" stroke="#0000ff" stroke-width="1.6"/>
<path d="M783.20,2027.20L783.20,2033.80M780.34,2028.85L786.06,2032.15M780.34,2032.15L786.06,2028.85M790.40,2027.20L790.40,2033.80M787.54,2028.85L793.26,2032.15M787.54,2032.15L793.26,2028.85M797.60,2027.20L797.60,2033.80M794.74,2028.85L800.46,2032.15M794.74,2032.15L800.46,2028.85" stroke="#3333ff" stroke-width="1.35" fill="none"/>
<path d="M776.2,1909.5 H781.2 V1934.5 H776.2" fill="none" stroke="#aaa" stroke-width="1.3"/>
<path d="M776.29,1919.58L776.29,1926.18M773.43,1921.23L779.15,1924.53M773.43,1924.53L779.15,1921.23" stroke="#000" stroke-width="1.35" fill="none"/>
<path d="M850.3,1891.1 H855.3 V1937.0 H850.3" fill="none" stroke="#aaa" stroke-width="1.3"/>
<path d="M851.80,1913.65L851.80,1920.25M848.94,1915.30L854.66,1918.60M848.94,1918.60L854.66,1915.30M851.80,1906.45L851.80,1913.05M848.94,1908.10L854.66,1911.40M848.94,1911.40L854.66,1908.10" stroke="#777" stroke-width="1.35" fill="none"/>
<path d="M927.3,1868.9 H932.3 V1921.8 H927.3" fill="none" stroke="#333" stroke-width="1.3"/>
<path d="M926.96,1893.82L926.96,1900.42M924.10,1895.47L929.82,1898.77M924.10,1898.77L929.82,1895.47" stroke="#000" stroke-width="1.35" fill="none"/>
<path d="M646.1,1934.2 L719.8,1938.8 L793.5,1935.2 L867.2,1937.0 L940.9,1921.8" fill="none" stroke="#111" stroke-width="1.5"/>
<path d="M646.1,1976.5 L719.8,1937.0 L793.5,1909.4 L867.2,1891.1 L940.9,1867.1" fill="none" stroke="#0000ff" stroke-width="1.8"/>
<path d="M646.1,1921.8 V1946.5 M642.9,1921.8 H649.3 M642.9,1946.5 H649.3" stroke="#111" stroke-width="1.5" fill="none" stroke-opacity="1.0"/>
<circle cx="646.1" cy="1934.2" r="3.8" fill="#000"/>
<path d="M646.1,1957.4 V1995.2 M642.9,1957.4 H649.3 M642.9,1995.2 H649.3" stroke="#0000ff" stroke-width="1.6" fill="none" stroke-opacity="1.0"/>
<circle cx="646.1" cy="1976.5" r="3.8" fill="#0000ff"/>
<path d="M719.8,1926.6 V1948.7 M716.6,1926.6 H723.0 M716.6,1948.7 H723.0" stroke="#111" stroke-width="1.5" fill="none" stroke-opacity="1.0"/>
<circle cx="719.8" cy="1938.8" r="3.8" fill="#000"/>
<path d="M719.8,1923.9 V1949.3 M716.6,1923.9 H723.0 M716.6,1949.3 H723.0" stroke="#0000ff" stroke-width="1.6" fill="none" stroke-opacity="1.0"/>
<circle cx="719.8" cy="1937.0" r="3.8" fill="#0000ff"/>
<path d="M793.5,1928.9 V1940.5 M790.3,1928.9 H796.7 M790.3,1940.5 H796.7" stroke="#111" stroke-width="1.5" fill="none" stroke-opacity="1.0"/>
<circle cx="793.5" cy="1935.2" r="3.8" fill="#000"/>
<path d="M793.5,1901.6 V1917.6 M790.3,1901.6 H796.7 M790.3,1917.6 H796.7" stroke="#0000ff" stroke-width="1.6" fill="none" stroke-opacity="1.0"/>
<circle cx="793.5" cy="1909.4" r="3.8" fill="#0000ff"/>
<path d="M867.2,1929.1 V1944.0 M864.0,1929.1 H870.4 M864.0,1944.0 H870.4" stroke="#111" stroke-width="1.5" fill="none" stroke-opacity="1.0"/>
<circle cx="867.2" cy="1937.0" r="3.8" fill="#000"/>
<path d="M867.2,1880.5 V1902.4 M864.0,1880.5 H870.4 M864.0,1902.4 H870.4" stroke="#0000ff" stroke-width="1.6" fill="none" stroke-opacity="1.0"/>
<circle cx="867.2" cy="1891.1" r="3.8" fill="#0000ff"/>
<path d="M940.9,1908.8 V1934.5 M937.7,1908.8 H944.1 M937.7,1934.5 H944.1" stroke="#111" stroke-width="1.5" fill="none" stroke-opacity="1.0"/>
<circle cx="940.9" cy="1921.8" r="3.8" fill="#000"/>
<path d="M940.9,1849.8 V1884.1 M937.7,1849.8 H944.1 M937.7,1884.1 H944.1" stroke="#0000ff" stroke-width="1.6" fill="none" stroke-opacity="1.0"/>
<circle cx="940.9" cy="1867.1" r="3.8" fill="#0000ff"/>
<line x1="1111.1" y1="1426.20" x2="1358.1" y2="1426.20" stroke="#8a8a8a" stroke-width="1.4" stroke-dasharray="12,11"/>
<line x1="1166.3" y1="1364.4" x2="1288.9" y2="1316.2" stroke="#a8a8ff" stroke-width="1.2" stroke-dasharray="3,1.5"/>
<line x1="1166.3" y1="1391.5" x2="1288.9" y2="1366.8" stroke="#5c5cff" stroke-width="1.2" stroke-dasharray="3,1.5"/>
<line x1="1166.3" y1="1426.2" x2="1288.9" y2="1409.1" stroke="#0000ff" stroke-width="1.2" stroke-dasharray="3,1.5"/>
<line x1="1166.3" y1="1453.3" x2="1288.9" y2="1469.2" stroke="#3030ff" stroke-width="1.2" stroke-dasharray="3,1.5"/>
<line x1="1166.3" y1="1478.9" x2="1288.9" y2="1504.6" stroke="#b0b0ff" stroke-width="1.2" stroke-dasharray="3,1.5"/>
<path d="M1166.3,1349.4 V1379.4 M1163.1,1349.4 H1169.5 M1163.1,1379.4 H1169.5" stroke="#a8a8ff" stroke-width="1.2" fill="none" stroke-opacity="1.0"/>
<path d="M1288.9,1303.3 V1328.1 M1285.7,1303.3 H1292.1 M1285.7,1328.1 H1292.1" stroke="#a8a8ff" stroke-width="1.2" fill="none" stroke-opacity="1.0"/>
<circle cx="1166.3" cy="1364.4" r="3.4" fill="#a8a8ff"/>
<circle cx="1288.9" cy="1316.2" r="3.4" fill="#a8a8ff"/>
<path d="M1166.3,1381.0 V1402.2 M1163.1,1381.0 H1169.5 M1163.1,1402.2 H1169.5" stroke="#5c5cff" stroke-width="1.2" fill="none" stroke-opacity="1.0"/>
<path d="M1288.9,1356.9 V1375.7 M1285.7,1356.9 H1292.1 M1285.7,1375.7 H1292.1" stroke="#5c5cff" stroke-width="1.2" fill="none" stroke-opacity="1.0"/>
<circle cx="1166.3" cy="1391.5" r="3.4" fill="#5c5cff"/>
<circle cx="1288.9" cy="1366.8" r="3.4" fill="#5c5cff"/>
<path d="M1166.3,1416.4 V1436.5 M1163.1,1416.4 H1169.5 M1163.1,1436.5 H1169.5" stroke="#0000ff" stroke-width="1.2" fill="none" stroke-opacity="1.0"/>
<path d="M1288.9,1400.4 V1417.0 M1285.7,1400.4 H1292.1 M1285.7,1417.0 H1292.1" stroke="#0000ff" stroke-width="1.2" fill="none" stroke-opacity="1.0"/>
<circle cx="1166.3" cy="1426.2" r="3.4" fill="#0000ff"/>
<circle cx="1288.9" cy="1409.1" r="3.4" fill="#0000ff"/>
<path d="M1166.3,1440.6 V1466.1 M1163.1,1440.6 H1169.5 M1163.1,1466.1 H1169.5" stroke="#3030ff" stroke-width="1.2" fill="none" stroke-opacity="1.0"/>
<path d="M1288.9,1456.1 V1482.7 M1285.7,1456.1 H1292.1 M1285.7,1482.7 H1292.1" stroke="#3030ff" stroke-width="1.2" fill="none" stroke-opacity="1.0"/>
<circle cx="1166.3" cy="1453.3" r="3.4" fill="#fff" stroke="#3030ff" stroke-width="1.2"/>
<circle cx="1288.9" cy="1469.2" r="3.4" fill="#fff" stroke="#3030ff" stroke-width="1.2"/>
<path d="M1166.3,1461.9 V1495.6 M1163.1,1461.9 H1169.5 M1163.1,1495.6 H1169.5" stroke="#b0b0ff" stroke-width="1.2" fill="none" stroke-opacity="1.0"/>
<path d="M1288.9,1488.0 V1522.7 M1285.7,1488.0 H1292.1 M1285.7,1522.7 H1292.1" stroke="#b0b0ff" stroke-width="1.2" fill="none" stroke-opacity="1.0"/>
<circle cx="1166.3" cy="1478.9" r="3.4" fill="#fff" stroke="#b0b0ff" stroke-width="1.2"/>
<circle cx="1288.9" cy="1504.6" r="3.4" fill="#fff" stroke="#b0b0ff" stroke-width="1.2"/>
<path d="M1230.17,1336.87L1230.17,1343.47M1227.31,1338.52L1233.03,1341.82M1227.31,1341.82L1233.03,1338.52" stroke="#000" stroke-width="1.35" fill="none"/>
<text x="388.80" y="1272.10" font-size="20.70" fill="#000" textLength="115.42" lengthAdjust="spacingAndGlyphs" stroke="#000" stroke-width="0.3" >FoE offset (°)</text>
<circle cx="405.5" cy="1290.4" r="4.4" fill="#adadad"/>
<circle cx="424.5" cy="1290.4" r="4.4" fill="#a8a8ff"/>
<text x="452.34" y="1297.40" font-size="20.40" fill="#000" textLength="22.69" lengthAdjust="spacingAndGlyphs" stroke="#000" stroke-width="0.3" >20</text>
<circle cx="405.5" cy="1317.1" r="4.4" fill="#666666"/>
<circle cx="424.5" cy="1317.1" r="4.4" fill="#5c5cff"/>
<text x="452.08" y="1324.10" font-size="20.40" fill="#000" textLength="22.69" lengthAdjust="spacingAndGlyphs" stroke="#000" stroke-width="0.3" >10</text>
<circle cx="405.5" cy="1343.8" r="4.4" fill="#000000"/>
<circle cx="424.5" cy="1343.8" r="4.4" fill="#0000ff"/>
<text x="458.13" y="1350.80" font-size="20.40" fill="#000" textLength="11.35" lengthAdjust="spacingAndGlyphs" stroke="#000" stroke-width="0.3" >0</text>
<circle cx="405.5" cy="1370.4" r="4.4" fill="#fff" stroke="#4d4d4d" stroke-width="1.2"/>
<circle cx="424.5" cy="1370.4" r="4.4" fill="#fff" stroke="#3030ff" stroke-width="1.2"/>
<text x="448.50" y="1377.40" font-size="20.40" fill="#000" textLength="29.48" lengthAdjust="spacingAndGlyphs" stroke="#000" stroke-width="0.3" >-10</text>
<circle cx="405.5" cy="1397.1" r="4.4" fill="#fff" stroke="#b3b3b3" stroke-width="1.2"/>
<circle cx="424.5" cy="1397.1" r="4.4" fill="#fff" stroke="#b0b0ff" stroke-width="1.2"/>
<text x="448.50" y="1404.10" font-size="20.40" fill="#000" textLength="29.48" lengthAdjust="spacingAndGlyphs" stroke="#000" stroke-width="0.3" >-20</text>
<text x="882.13" y="1282.50" font-size="21.40" fill="#000" textLength="75.56" lengthAdjust="spacingAndGlyphs" stroke="#000" stroke-width="0.3" >No-load</text>
<text x="882.18" y="1309.20" font-size="21.40" fill="#000" textLength="46.67" lengthAdjust="spacingAndGlyphs" stroke="#000" stroke-width="0.3" >Load</text>
<text x="1295.79" y="1255.20" font-size="20.70" fill="#000" textLength="115.83" lengthAdjust="spacingAndGlyphs" stroke="#000" stroke-width="0.3" >FoE offset (°)</text>
<circle cx="1329.0" cy="1274.8" r="4.4" fill="#a8a8ff"/>
<text x="1356.44" y="1281.80" font-size="20.40" fill="#000" textLength="22.69" lengthAdjust="spacingAndGlyphs" stroke="#000" stroke-width="0.3" >20</text>
<circle cx="1329.0" cy="1301.3" r="4.4" fill="#5c5cff"/>
<text x="1356.18" y="1308.30" font-size="20.40" fill="#000" textLength="22.69" lengthAdjust="spacingAndGlyphs" stroke="#000" stroke-width="0.3" >10</text>
<circle cx="1329.0" cy="1328.1" r="4.4" fill="#0000ff"/>
<text x="1362.23" y="1335.10" font-size="20.40" fill="#000" textLength="11.35" lengthAdjust="spacingAndGlyphs" stroke="#000" stroke-width="0.3" >0</text>
<circle cx="1329.0" cy="1354.6" r="4.4" fill="#fff" stroke="#3030ff" stroke-width="1.2"/>
<text x="1352.60" y="1361.60" font-size="20.40" fill="#000" textLength="29.48" lengthAdjust="spacingAndGlyphs" stroke="#000" stroke-width="0.3" >-10</text>
<circle cx="1329.0" cy="1381.1" r="4.4" fill="#fff" stroke="#b0b0ff" stroke-width="1.2"/>
<text x="1352.60" y="1388.10" font-size="20.40" fill="#000" textLength="29.48" lengthAdjust="spacingAndGlyphs" stroke="#000" stroke-width="0.3" >-20</text>
</svg>
</body></html>
